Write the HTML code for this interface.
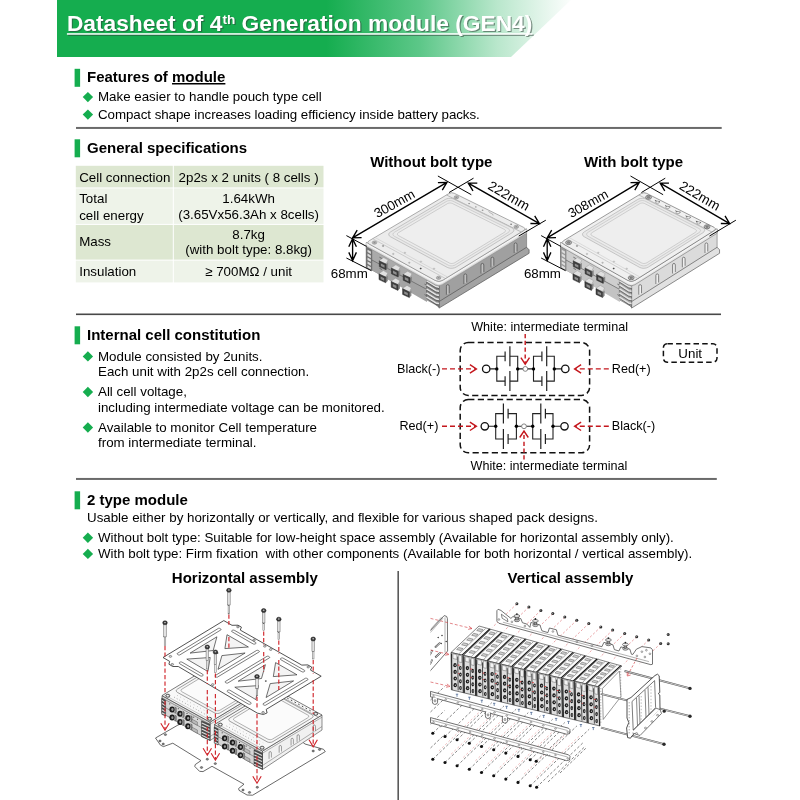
<!DOCTYPE html>
<html><head><meta charset="utf-8"><title>Datasheet of 4th Generation module (GEN4)</title>
<style>
html,body{margin:0;padding:0;background:#fff;}
body{width:800px;height:800px;overflow:hidden;font-family:"Liberation Sans",sans-serif;}
svg{display:block;position:absolute;left:0;top:0;will-change:transform;}
text{font-family:"Liberation Sans",sans-serif;fill:#000;}
.b{font-weight:bold;}
.h{font-weight:bold;font-size:15px;}
.t{font-size:13.33px;}
.s{font-size:12.6px;}
.c{text-anchor:middle;}
</style></head><body>
<svg width="800" height="800" viewBox="0 0 800 800">
<defs>
<linearGradient id="bg" gradientUnits="userSpaceOnUse" x1="57" y1="0" x2="575" y2="0">
<stop offset="0" stop-color="#15ad4f"/><stop offset="0.52" stop-color="#15ad4f"/><stop offset="0.70" stop-color="#5cc788"/><stop offset="0.85" stop-color="#b9e7cc"/><stop offset="0.95" stop-color="#e9f7ef"/><stop offset="1" stop-color="#ffffff"/>
</linearGradient>
<filter id="sh" x="-5%" y="-20%" width="110%" height="150%"><feGaussianBlur stdDeviation="0.7"/></filter>
</defs>

<polygon points="57,0 571,0 511,57 57,57" fill="url(#bg)"/>
<g style="opacity:.55" filter="url(#sh)"><text x="68.1" y="32.3" class="b" font-size="22.75px" style="fill:#2f4037"><tspan>Datasheet of 4</tspan><tspan dy="-7.5" font-size="13.6px">th</tspan><tspan dy="7.5"> Generation module (GEN4)</tspan></text><rect x="68.1" y="34.4" width="465.6" height="1.5" fill="#2f4037"/></g>
<text x="66.9" y="31" class="b" font-size="22.75px" style="fill:#fff"><tspan>Datasheet of 4</tspan><tspan dy="-7.5" font-size="13.6px">th</tspan><tspan dy="7.5"> Generation module (GEN4)</tspan></text>
<rect x="66.9" y="33.2" width="465.6" height="1.5" fill="#fff"/>
<rect x="74.6" y="68.8" width="5.5" height="18" fill="#15ad4f"/>
<text x="87" y="82" class="h">Features of <tspan text-decoration="underline">module</tspan></text>
<polygon points="82.7,97.1 87.9,91.89999999999999 93.10000000000001,97.1 87.9,102.3" fill="#15ad4f"/>
<text x="98" y="101.3" class="t" >Make easier to handle pouch type cell</text>
<polygon points="82.7,114.6 87.9,109.39999999999999 93.10000000000001,114.6 87.9,119.8" fill="#15ad4f"/>
<text x="98" y="118.8" class="t" textLength="381.8" lengthAdjust="spacing">Compact shape increases loading efficiency inside battery packs.</text>
<rect x="76" y="126.95" width="645.7" height="2.0" fill="#6a6a6a"/>
<rect x="74.6" y="139.3" width="5.5" height="18" fill="#15ad4f"/>
<text x="87" y="152.5" class="h">General specifications</text>
<rect x="75.8" y="165.8" width="97.0" height="21.6" fill="#dde7d1"/>
<rect x="173.8" y="165.8" width="149.7" height="21.6" fill="#dde7d1"/>
<rect x="75.8" y="188.4" width="97.0" height="35.5" fill="#eef3e9"/>
<rect x="173.8" y="188.4" width="149.7" height="35.5" fill="#eef3e9"/>
<rect x="75.8" y="224.9" width="97.0" height="34.7" fill="#dde7d1"/>
<rect x="173.8" y="224.9" width="149.7" height="34.7" fill="#dde7d1"/>
<rect x="75.8" y="260.6" width="97.0" height="21.8" fill="#eef3e9"/>
<rect x="173.8" y="260.6" width="149.7" height="21.8" fill="#eef3e9"/>
<text x="79.2" y="181.8" class="t" >Cell connection</text>
<text x="248.6" y="181.8" class="t c" >2p2s x 2 units ( 8 cells )</text>
<text x="79.2" y="203.2" class="t" >Total</text>
<text x="79.2" y="219.5" class="t" >cell energy</text>
<text x="248.6" y="203.2" class="t c" >1.64kWh</text>
<text x="248.6" y="219.0" class="t c" >(3.65Vx56.3Ah x 8cells)</text>
<text x="79.2" y="246" class="t" >Mass</text>
<text x="248.6" y="238.5" class="t c" >8.7kg</text>
<text x="248.6" y="254.0" class="t c" >(with bolt type: 8.8kg)</text>
<text x="79.2" y="276.0" class="t" >Insulation</text>
<text x="248.6" y="276.2" class="t c" >≥ 700MΩ / unit</text>
<g id="mod1">
<polygon points="439.0,282.6 526.6,228.8 526.6,249.8 439.0,303.6" fill="#a0a0a0" stroke="#6e6e6e" stroke-width="0.6"/>
<polygon points="439.0,301.6 526.6,247.3 529.1,249.8 529.1,253.3 439.0,308.1 439.0,301.6" fill="#a3a3a3" stroke="#555" stroke-width="0.7"/>
<path d="M446.4,294.7 v-8.5 a1.4,1.6 0 0 1 2.8,0 v7" fill="#c0c0c0" stroke="#4a4a4a" stroke-width="0.7"/>
<path d="M463.9,284.0 v-8.5 a1.4,1.6 0 0 1 2.8,0 v7" fill="#c0c0c0" stroke="#4a4a4a" stroke-width="0.7"/>
<path d="M481.0,273.5 v-8.5 a1.4,1.6 0 0 1 2.8,0 v7" fill="#c0c0c0" stroke="#4a4a4a" stroke-width="0.7"/>
<path d="M491.0,267.3 v-8.5 a1.4,1.6 0 0 1 2.8,0 v7" fill="#c0c0c0" stroke="#4a4a4a" stroke-width="0.7"/>
<path d="M514.2,253.0 v-8.5 a1.4,1.6 0 0 1 2.8,0 v7" fill="#c0c0c0" stroke="#4a4a4a" stroke-width="0.7"/>
<polygon points="366.3,242.5 439.0,282.6 439.0,306.6 366.3,267.0" fill="#aaaaaa" stroke="#777" stroke-width="0.6"/>
<polygon points="366.3,257.0 427.0,289.5 427.0,302.0 366.3,267.0" fill="#a3a3a3"/>
<path d="M366.3,257.0 L427.0,289.5" stroke="#6a6a6a" stroke-width="0.8" fill="none"/>
<path d="M379.4,257.2 l2.6,1.4" stroke="#666" stroke-width="0.9"/>
<path d="M379.4,268.2 l2.6,1.4" stroke="#666" stroke-width="0.9"/>
<path d="M424.5,284.1 l2.6,1.4" stroke="#666" stroke-width="0.9"/>
<path d="M424.5,294.6 l2.6,1.4" stroke="#666" stroke-width="0.9"/>
<polygon points="366.3,246.0 371.9,249.1 371.9,270.5 366.3,267.5" fill="#737373" stroke="#555" stroke-width="0.4"/>
<polygon points="367.5,249.7 370.9,251.6 370.9,254.0 367.5,252.1" fill="#dcdcdc"/>
<polygon points="367.5,253.6 370.9,255.5 370.9,257.9 367.5,256.0" fill="#dcdcdc"/>
<polygon points="367.5,257.5 370.9,259.4 370.9,261.8 367.5,259.9" fill="#dcdcdc"/>
<polygon points="367.5,261.4 370.9,263.3 370.9,265.7 367.5,263.8" fill="#dcdcdc"/>
<polygon points="367.5,265.3 370.9,267.2 370.9,269.6 367.5,267.7" fill="#dcdcdc"/>
<polygon points="426.5,277.7 439.0,284.6 439.0,307.2 426.5,297.2" fill="#858585" stroke="#555" stroke-width="0.5"/>
<path d="M426.5,280.7 L436.0,286.6 L439.0,287.2" stroke="#e2e2e2" stroke-width="1.6" fill="none"/>
<path d="M426.5,282.1 L436.0,288.0 L439.0,288.6" stroke="#555" stroke-width="0.7" fill="none"/>
<path d="M426.5,284.8 L436.0,290.7 L439.0,291.3" stroke="#e2e2e2" stroke-width="1.6" fill="none"/>
<path d="M426.5,286.2 L436.0,292.1 L439.0,292.7" stroke="#555" stroke-width="0.7" fill="none"/>
<path d="M426.5,288.9 L436.0,294.8 L439.0,295.4" stroke="#e2e2e2" stroke-width="1.6" fill="none"/>
<path d="M426.5,290.3 L436.0,296.2 L439.0,296.8" stroke="#555" stroke-width="0.7" fill="none"/>
<path d="M426.5,293.0 L436.0,298.9 L439.0,299.5" stroke="#e2e2e2" stroke-width="1.6" fill="none"/>
<path d="M426.5,294.4 L436.0,300.3 L439.0,300.9" stroke="#555" stroke-width="0.7" fill="none"/>
<path d="M426.5,297.1 L436.0,303.0 L439.0,303.6" stroke="#e2e2e2" stroke-width="1.6" fill="none"/>
<path d="M426.5,298.5 L436.0,304.4 L439.0,305.0" stroke="#555" stroke-width="0.7" fill="none"/>
<polygon points="379.4,260.4 383.7,257.6 388.1,260.1 386.3,263.6 379.4,262.4" fill="#e0e0e0" stroke="#8c8c8c" stroke-width="0.4"/>
<polygon points="386.1,264.2 388.1,262.8 388.1,260.1 388.1,268.0 386.1,269.6" fill="#868686"/>
<polygon points="379.3,260.8 386.1,264.2 386.1,269.8 379.3,266.6" fill="#3e3e3e" stroke="#2a2a2a" stroke-width="0.5"/>
<polygon points="380.9,263.4 384.5,265.2 384.5,267.8 380.9,266.0" fill="#8e8e8e"/>
<polygon points="391.5,267.6 395.8,264.8 400.2,267.3 398.4,270.8 391.5,269.6" fill="#e0e0e0" stroke="#8c8c8c" stroke-width="0.4"/>
<polygon points="398.2,271.4 400.2,270.0 400.2,267.3 400.2,275.2 398.2,276.8" fill="#868686"/>
<polygon points="391.4,268.0 398.2,271.4 398.2,277.0 391.4,273.8" fill="#3e3e3e" stroke="#2a2a2a" stroke-width="0.5"/>
<polygon points="393.0,270.6 396.6,272.4 396.6,275.0 393.0,273.2" fill="#8e8e8e"/>
<polygon points="403.3,274.0 407.6,271.2 412.0,273.7 410.2,277.2 403.3,276.0" fill="#e0e0e0" stroke="#8c8c8c" stroke-width="0.4"/>
<polygon points="410.0,277.8 412.0,276.4 412.0,273.7 412.0,281.6 410.0,283.2" fill="#868686"/>
<polygon points="403.2,274.4 410.0,277.8 410.0,283.4 403.2,280.2" fill="#3e3e3e" stroke="#2a2a2a" stroke-width="0.5"/>
<polygon points="404.8,277.0 408.4,278.8 408.4,281.4 404.8,279.6" fill="#8e8e8e"/>
<polygon points="379.1,273.4 383.4,270.6 387.8,273.1 386.0,276.6 379.1,275.4" fill="#e0e0e0" stroke="#8c8c8c" stroke-width="0.4"/>
<polygon points="385.8,277.2 387.8,275.8 387.8,273.1 387.8,281.0 385.8,282.6" fill="#868686"/>
<polygon points="379.0,273.8 385.8,277.2 385.8,282.8 379.0,279.6" fill="#3e3e3e" stroke="#2a2a2a" stroke-width="0.5"/>
<polygon points="380.6,276.4 384.2,278.2 384.2,280.8 380.6,279.0" fill="#8e8e8e"/>
<polygon points="391.3,281.0 395.6,278.2 400.0,280.7 398.2,284.2 391.3,283.0" fill="#e0e0e0" stroke="#8c8c8c" stroke-width="0.4"/>
<polygon points="398.0,284.8 400.0,283.4 400.0,280.7 400.0,288.6 398.0,290.2" fill="#868686"/>
<polygon points="391.2,281.4 398.0,284.8 398.0,290.4 391.2,287.2" fill="#3e3e3e" stroke="#2a2a2a" stroke-width="0.5"/>
<polygon points="392.8,284.0 396.4,285.8 396.4,288.4 392.8,286.6" fill="#8e8e8e"/>
<polygon points="402.7,288.2 407.0,285.4 411.4,287.9 409.6,291.4 402.7,290.2" fill="#e0e0e0" stroke="#8c8c8c" stroke-width="0.4"/>
<polygon points="409.4,292.0 411.4,290.6 411.4,287.9 411.4,295.8 409.4,297.4" fill="#868686"/>
<polygon points="402.6,288.6 409.4,292.0 409.4,297.6 402.6,294.4" fill="#3e3e3e" stroke="#2a2a2a" stroke-width="0.5"/>
<polygon points="404.2,291.2 407.8,293.0 407.8,295.6 404.2,293.8" fill="#8e8e8e"/>
<path d="M366.3,243.5 Q366.3,242.5 367.2,243.0 L435.5,280.7 Q439.0,282.6 442.4,280.5 L525.7,229.3 Q526.6,228.8 526.6,229.8 L526.6,232.3 Q526.6,233.3 525.7,233.8 L442.4,284.7 Q439.0,286.8 435.5,284.9 L367.2,247.0 Q366.3,246.5 366.3,245.5 Z" fill="#dadada" stroke="#8a8a8a" stroke-width="0.6"/>
<path d="M366.3,243.4 Q366.3,242.9 366.7,243.1 L435.5,281.1 Q439.0,283.0 442.4,280.9 L526.2,229.5 Q526.6,229.2 526.6,229.7 L526.6,230.7 Q526.6,231.2 526.2,231.5 L442.4,283.1 Q439.0,285.2 435.5,283.3 L366.7,244.9 Q366.3,244.7 366.3,244.2 Z" fill="#f3f3f3"/>
<path d="M369.4,244.2 Q366.3,242.5 369.3,240.7 L449.0,193.5 Q451.6,192.0 454.3,193.3 L523.5,227.3 Q526.6,228.8 523.6,230.6 L442.8,280.2 Q439.0,282.6 435.1,280.4 Z" fill="#ececec" stroke="#8a8a8a" stroke-width="0.7" stroke-linejoin="round"/>
<path d="M446.5,195.0 L521.3,232.0" stroke="#999" stroke-width="0.6"/>
<path d="M372.7,238.7 L445.6,278.6" stroke="#aaa" stroke-width="0.5"/>
<path d="M374.8,237.4 L447.8,277.2" stroke="#c4c4c4" stroke-width="0.5"/>
<polygon points="390.4,236.7 389.3,235.9 388.8,234.9 388.8,233.8 389.4,232.8 390.5,231.9 445.2,199.5 446.7,198.8 448.5,198.4 450.4,198.3 452.2,198.5 453.7,199.1 512.1,227.9 513.2,228.7 513.8,229.7 513.8,230.8 513.2,231.8 512.0,232.8 456.1,267.1 454.5,267.8 452.7,268.2 450.8,268.3 449.0,268.0 447.5,267.5" fill="#e8e8e8" stroke="#a8a8a8" stroke-width="0.6"/>
<polygon points="394.3,236.2 393.4,235.5 393.0,234.7 393.0,233.9 393.5,233.0 394.4,232.3 446.2,201.6 447.4,201.0 448.8,200.7 450.4,200.6 451.8,200.8 453.0,201.2 508.2,228.6 509.1,229.3 509.6,230.0 509.6,230.9 509.1,231.7 508.2,232.5 455.2,264.9 454.0,265.5 452.5,265.8 451.0,265.9 449.6,265.7 448.3,265.2" fill="#ebebeb" stroke="#b4b4b4" stroke-width="0.5"/>
<polygon points="398.4,235.6 397.7,235.1 397.4,234.5 397.4,233.9 397.7,233.3 398.4,232.7 447.2,203.8 448.1,203.3 449.2,203.1 450.3,203.0 451.4,203.2 452.3,203.5 504.4,229.4 505.1,229.9 505.4,230.5 505.4,231.1 505.0,231.8 504.4,232.3 454.6,262.8 453.6,263.2 452.6,263.4 451.4,263.5 450.3,263.3 449.4,263.0" fill="#eeeeee" stroke="#adadad" stroke-width="0.5"/>
<ellipse cx="374.5" cy="242.6" rx="2.3" ry="1.6" fill="#bdbdbd" stroke="#777" stroke-width="0.5"/>
<ellipse cx="374.5" cy="242.6" rx="1.1" ry="0.8" fill="#8f8f8f"/>
<ellipse cx="438.6" cy="277.8" rx="2.3" ry="1.6" fill="#bdbdbd" stroke="#777" stroke-width="0.5"/>
<ellipse cx="438.6" cy="277.8" rx="1.1" ry="0.8" fill="#8f8f8f"/>
<ellipse cx="456.4" cy="197.3" rx="2.3" ry="1.6" fill="#bdbdbd" stroke="#777" stroke-width="0.5"/>
<ellipse cx="456.4" cy="197.3" rx="1.1" ry="0.8" fill="#8f8f8f"/>
<ellipse cx="516.3" cy="226.8" rx="2.3" ry="1.6" fill="#bdbdbd" stroke="#777" stroke-width="0.5"/>
<ellipse cx="516.3" cy="226.8" rx="1.1" ry="0.8" fill="#8f8f8f"/>
<ellipse cx="393.3" cy="253.9" rx="0.9" ry="0.7" fill="#bbb" stroke="#999" stroke-width="0.3"/>
<ellipse cx="404.9" cy="252.8" rx="0.9" ry="0.7" fill="#ccc" stroke="#999" stroke-width="0.3"/>
<ellipse cx="409.3" cy="262.7" rx="0.9" ry="0.7" fill="#bbb" stroke="#999" stroke-width="0.3"/>
<ellipse cx="420.9" cy="261.6" rx="0.9" ry="0.7" fill="#ccc" stroke="#999" stroke-width="0.3"/>
<ellipse cx="420.7" cy="268.5" rx="0.9" ry="0.7" fill="#333" stroke="#999" stroke-width="0.3"/>
<ellipse cx="434.0" cy="268.7" rx="0.9" ry="0.7" fill="#ccc" stroke="#999" stroke-width="0.3"/>
<ellipse cx="383.1" cy="245.9" rx="0.9" ry="0.7" fill="#777" stroke="#999" stroke-width="0.3"/>
<ellipse cx="469.1" cy="203.6" rx="0.9" ry="0.7" fill="#888"/>
<ellipse cx="475.8" cy="206.9" rx="0.9" ry="0.7" fill="#999"/>
<ellipse cx="482.6" cy="210.2" rx="0.9" ry="0.7" fill="#999"/>
<ellipse cx="511.1" cy="224.2" rx="0.9" ry="0.7" fill="#777"/>
<path d="M488.6,211.0 l1,1.5 l3,1.5 l0.5,1.5" stroke="#888" stroke-width="0.5" fill="none"/>
<path d="M352.6,237.9 L446.9,182.4 M442.3,190.2 L446.9,182.4 L437.9,182.6 M357.2,230.1 L352.6,237.9 L361.6,237.7" stroke="#000" stroke-width="1.35" fill="none" stroke-linejoin="miter"/>
<path d="M346.4,235.6 L366.5,246.4" stroke="#000" stroke-width="1.0" fill="none"/>
<path d="M437.9,176.0 L471.3,194.7" stroke="#000" stroke-width="1.0" fill="none"/>
<path d="M468.3,183.1 L539.4,223.6 M530.4,223.5 L539.4,223.6 L534.7,215.9 M477.3,183.2 L468.3,183.1 L473.0,190.8" stroke="#000" stroke-width="1.35" fill="none" stroke-linejoin="miter"/>
<path d="M449.1,192.5 L473.5,178.2" stroke="#000" stroke-width="1.0" fill="none"/>
<path d="M518.8,236.0 L545.8,220.2" stroke="#000" stroke-width="1.0" fill="none"/>
<path d="M352.6,238.6 L352.6,260.6 M348.8,252.4 L352.6,260.6 L356.4,252.4 M356.4,246.8 L352.6,238.6 L348.8,246.8" stroke="#000" stroke-width="1.35" fill="none" stroke-linejoin="miter"/>
<path d="M346.4,258.0 L371.4,270.7" stroke="#000" stroke-width="1.0" fill="none"/>
<text class="t" text-anchor="middle" transform="translate(396.6,207.6) rotate(-29.0)" x="0" y="0">300mm</text>
<text class="t" text-anchor="middle" transform="translate(506.6,199.8) rotate(30.0)" x="0" y="0" style="font-size:13.6px">222mm</text>
</g>
<g id="mod2" transform="translate(547.2,0) scale(0.9765,1) translate(-352.6,0)">
<polygon points="439.0,282.6 526.6,228.8 526.6,249.8 439.0,303.6" fill="#dbdbdb" stroke="#6a6a6a" stroke-width="0.6"/>
<polygon points="439.0,301.6 526.6,247.3 529.1,249.8 529.1,253.3 439.0,308.1 439.0,301.6" fill="#e1e1e1" stroke="#5a5a5a" stroke-width="0.7"/>
<path d="M446.4,294.7 v-8.5 a1.4,1.6 0 0 1 2.8,0 v7" fill="#efefef" stroke="#555" stroke-width="0.7"/>
<path d="M463.9,284.0 v-8.5 a1.4,1.6 0 0 1 2.8,0 v7" fill="#efefef" stroke="#555" stroke-width="0.7"/>
<path d="M481.0,273.5 v-8.5 a1.4,1.6 0 0 1 2.8,0 v7" fill="#efefef" stroke="#555" stroke-width="0.7"/>
<path d="M491.0,267.3 v-8.5 a1.4,1.6 0 0 1 2.8,0 v7" fill="#efefef" stroke="#555" stroke-width="0.7"/>
<path d="M514.2,253.0 v-8.5 a1.4,1.6 0 0 1 2.8,0 v7" fill="#efefef" stroke="#555" stroke-width="0.7"/>
<polygon points="366.3,242.5 439.0,282.6 439.0,306.6 366.3,267.0" fill="#cecece" stroke="#666" stroke-width="0.6"/>
<polygon points="366.3,257.0 427.0,289.5 427.0,302.0 366.3,267.0" fill="#c3c3c3"/>
<path d="M366.3,257.0 L427.0,289.5" stroke="#6a6a6a" stroke-width="0.8" fill="none"/>
<path d="M379.4,257.2 l2.6,1.4" stroke="#666" stroke-width="0.9"/>
<path d="M379.4,268.2 l2.6,1.4" stroke="#666" stroke-width="0.9"/>
<path d="M424.5,284.1 l2.6,1.4" stroke="#666" stroke-width="0.9"/>
<path d="M424.5,294.6 l2.6,1.4" stroke="#666" stroke-width="0.9"/>
<polygon points="366.3,246.0 371.9,249.1 371.9,270.5 366.3,267.5" fill="#9a9a9a" stroke="#555" stroke-width="0.4"/>
<polygon points="367.5,249.7 370.9,251.6 370.9,254.0 367.5,252.1" fill="#dcdcdc"/>
<polygon points="367.5,253.6 370.9,255.5 370.9,257.9 367.5,256.0" fill="#dcdcdc"/>
<polygon points="367.5,257.5 370.9,259.4 370.9,261.8 367.5,259.9" fill="#dcdcdc"/>
<polygon points="367.5,261.4 370.9,263.3 370.9,265.7 367.5,263.8" fill="#dcdcdc"/>
<polygon points="367.5,265.3 370.9,267.2 370.9,269.6 367.5,267.7" fill="#dcdcdc"/>
<polygon points="426.5,277.7 439.0,284.6 439.0,307.2 426.5,297.2" fill="#a6a6a6" stroke="#555" stroke-width="0.5"/>
<path d="M426.5,280.7 L436.0,286.6 L439.0,287.2" stroke="#e2e2e2" stroke-width="1.6" fill="none"/>
<path d="M426.5,282.1 L436.0,288.0 L439.0,288.6" stroke="#555" stroke-width="0.7" fill="none"/>
<path d="M426.5,284.8 L436.0,290.7 L439.0,291.3" stroke="#e2e2e2" stroke-width="1.6" fill="none"/>
<path d="M426.5,286.2 L436.0,292.1 L439.0,292.7" stroke="#555" stroke-width="0.7" fill="none"/>
<path d="M426.5,288.9 L436.0,294.8 L439.0,295.4" stroke="#e2e2e2" stroke-width="1.6" fill="none"/>
<path d="M426.5,290.3 L436.0,296.2 L439.0,296.8" stroke="#555" stroke-width="0.7" fill="none"/>
<path d="M426.5,293.0 L436.0,298.9 L439.0,299.5" stroke="#e2e2e2" stroke-width="1.6" fill="none"/>
<path d="M426.5,294.4 L436.0,300.3 L439.0,300.9" stroke="#555" stroke-width="0.7" fill="none"/>
<path d="M426.5,297.1 L436.0,303.0 L439.0,303.6" stroke="#e2e2e2" stroke-width="1.6" fill="none"/>
<path d="M426.5,298.5 L436.0,304.4 L439.0,305.0" stroke="#555" stroke-width="0.7" fill="none"/>
<polygon points="379.4,260.4 383.7,257.6 388.1,260.1 386.3,263.6 379.4,262.4" fill="#e0e0e0" stroke="#8c8c8c" stroke-width="0.4"/>
<polygon points="386.1,264.2 388.1,262.8 388.1,260.1 388.1,268.0 386.1,269.6" fill="#868686"/>
<polygon points="379.3,260.8 386.1,264.2 386.1,269.8 379.3,266.6" fill="#3e3e3e" stroke="#2a2a2a" stroke-width="0.5"/>
<polygon points="380.9,263.4 384.5,265.2 384.5,267.8 380.9,266.0" fill="#8e8e8e"/>
<polygon points="391.5,267.6 395.8,264.8 400.2,267.3 398.4,270.8 391.5,269.6" fill="#e0e0e0" stroke="#8c8c8c" stroke-width="0.4"/>
<polygon points="398.2,271.4 400.2,270.0 400.2,267.3 400.2,275.2 398.2,276.8" fill="#868686"/>
<polygon points="391.4,268.0 398.2,271.4 398.2,277.0 391.4,273.8" fill="#3e3e3e" stroke="#2a2a2a" stroke-width="0.5"/>
<polygon points="393.0,270.6 396.6,272.4 396.6,275.0 393.0,273.2" fill="#8e8e8e"/>
<polygon points="403.3,274.0 407.6,271.2 412.0,273.7 410.2,277.2 403.3,276.0" fill="#e0e0e0" stroke="#8c8c8c" stroke-width="0.4"/>
<polygon points="410.0,277.8 412.0,276.4 412.0,273.7 412.0,281.6 410.0,283.2" fill="#868686"/>
<polygon points="403.2,274.4 410.0,277.8 410.0,283.4 403.2,280.2" fill="#3e3e3e" stroke="#2a2a2a" stroke-width="0.5"/>
<polygon points="404.8,277.0 408.4,278.8 408.4,281.4 404.8,279.6" fill="#8e8e8e"/>
<polygon points="379.1,273.4 383.4,270.6 387.8,273.1 386.0,276.6 379.1,275.4" fill="#e0e0e0" stroke="#8c8c8c" stroke-width="0.4"/>
<polygon points="385.8,277.2 387.8,275.8 387.8,273.1 387.8,281.0 385.8,282.6" fill="#868686"/>
<polygon points="379.0,273.8 385.8,277.2 385.8,282.8 379.0,279.6" fill="#3e3e3e" stroke="#2a2a2a" stroke-width="0.5"/>
<polygon points="380.6,276.4 384.2,278.2 384.2,280.8 380.6,279.0" fill="#8e8e8e"/>
<polygon points="391.3,281.0 395.6,278.2 400.0,280.7 398.2,284.2 391.3,283.0" fill="#e0e0e0" stroke="#8c8c8c" stroke-width="0.4"/>
<polygon points="398.0,284.8 400.0,283.4 400.0,280.7 400.0,288.6 398.0,290.2" fill="#868686"/>
<polygon points="391.2,281.4 398.0,284.8 398.0,290.4 391.2,287.2" fill="#3e3e3e" stroke="#2a2a2a" stroke-width="0.5"/>
<polygon points="392.8,284.0 396.4,285.8 396.4,288.4 392.8,286.6" fill="#8e8e8e"/>
<polygon points="402.7,288.2 407.0,285.4 411.4,287.9 409.6,291.4 402.7,290.2" fill="#e0e0e0" stroke="#8c8c8c" stroke-width="0.4"/>
<polygon points="409.4,292.0 411.4,290.6 411.4,287.9 411.4,295.8 409.4,297.4" fill="#868686"/>
<polygon points="402.6,288.6 409.4,292.0 409.4,297.6 402.6,294.4" fill="#3e3e3e" stroke="#2a2a2a" stroke-width="0.5"/>
<polygon points="404.2,291.2 407.8,293.0 407.8,295.6 404.2,293.8" fill="#8e8e8e"/>
<path d="M366.3,243.5 Q366.3,242.5 367.2,243.0 L435.5,280.7 Q439.0,282.6 442.4,280.5 L525.7,229.3 Q526.6,228.8 526.6,229.8 L526.6,232.3 Q526.6,233.3 525.7,233.8 L442.4,284.7 Q439.0,286.8 435.5,284.9 L367.2,247.0 Q366.3,246.5 366.3,245.5 Z" fill="#e6e6e6" stroke="#6f6f6f" stroke-width="0.6"/>
<path d="M366.3,243.4 Q366.3,242.9 366.7,243.1 L435.5,281.1 Q439.0,283.0 442.4,280.9 L526.2,229.5 Q526.6,229.2 526.6,229.7 L526.6,230.7 Q526.6,231.2 526.2,231.5 L442.4,283.1 Q439.0,285.2 435.5,283.3 L366.7,244.9 Q366.3,244.7 366.3,244.2 Z" fill="#f3f3f3"/>
<path d="M369.4,244.2 Q366.3,242.5 369.3,240.7 L449.0,193.5 Q451.6,192.0 454.3,193.3 L523.5,227.3 Q526.6,228.8 523.6,230.6 L442.8,280.2 Q439.0,282.6 435.1,280.4 Z" fill="#f0f0f0" stroke="#6f6f6f" stroke-width="0.7" stroke-linejoin="round"/>
<path d="M446.5,195.0 L521.3,232.0" stroke="#999" stroke-width="0.6"/>
<path d="M372.7,238.7 L445.6,278.6" stroke="#aaa" stroke-width="0.5"/>
<path d="M374.8,237.4 L447.8,277.2" stroke="#c4c4c4" stroke-width="0.5"/>
<polygon points="390.4,236.7 389.3,235.9 388.8,234.9 388.8,233.8 389.4,232.8 390.5,231.9 445.2,199.5 446.7,198.8 448.5,198.4 450.4,198.3 452.2,198.5 453.7,199.1 512.1,227.9 513.2,228.7 513.8,229.7 513.8,230.8 513.2,231.8 512.0,232.8 456.1,267.1 454.5,267.8 452.7,268.2 450.8,268.3 449.0,268.0 447.5,267.5" fill="#e8e8e8" stroke="#a8a8a8" stroke-width="0.6"/>
<polygon points="394.3,236.2 393.4,235.5 393.0,234.7 393.0,233.9 393.5,233.0 394.4,232.3 446.2,201.6 447.4,201.0 448.8,200.7 450.4,200.6 451.8,200.8 453.0,201.2 508.2,228.6 509.1,229.3 509.6,230.0 509.6,230.9 509.1,231.7 508.2,232.5 455.2,264.9 454.0,265.5 452.5,265.8 451.0,265.9 449.6,265.7 448.3,265.2" fill="#ebebeb" stroke="#b4b4b4" stroke-width="0.5"/>
<polygon points="398.4,235.6 397.7,235.1 397.4,234.5 397.4,233.9 397.7,233.3 398.4,232.7 447.2,203.8 448.1,203.3 449.2,203.1 450.3,203.0 451.4,203.2 452.3,203.5 504.4,229.4 505.1,229.9 505.4,230.5 505.4,231.1 505.0,231.8 504.4,232.3 454.6,262.8 453.6,263.2 452.6,263.4 451.4,263.5 450.3,263.3 449.4,263.0" fill="#eeeeee" stroke="#adadad" stroke-width="0.5"/>
<ellipse cx="374.5" cy="242.6" rx="3.0" ry="2.0" fill="#d0d0d0" stroke="#555" stroke-width="0.7"/>
<ellipse cx="374.5" cy="242.6" rx="1.5" ry="1.0" fill="#8a8a8a" stroke="#555" stroke-width="0.4"/>
<ellipse cx="438.6" cy="277.8" rx="3.0" ry="2.0" fill="#d0d0d0" stroke="#555" stroke-width="0.7"/>
<ellipse cx="438.6" cy="277.8" rx="1.5" ry="1.0" fill="#8a8a8a" stroke="#555" stroke-width="0.4"/>
<ellipse cx="456.4" cy="197.3" rx="3.0" ry="2.0" fill="#d0d0d0" stroke="#555" stroke-width="0.7"/>
<ellipse cx="456.4" cy="197.3" rx="1.5" ry="1.0" fill="#8a8a8a" stroke="#555" stroke-width="0.4"/>
<ellipse cx="516.3" cy="226.8" rx="3.0" ry="2.0" fill="#d0d0d0" stroke="#555" stroke-width="0.7"/>
<ellipse cx="516.3" cy="226.8" rx="1.5" ry="1.0" fill="#8a8a8a" stroke="#555" stroke-width="0.4"/>
<ellipse cx="393.3" cy="253.9" rx="0.9" ry="0.7" fill="#bbb" stroke="#999" stroke-width="0.3"/>
<ellipse cx="404.9" cy="252.8" rx="0.9" ry="0.7" fill="#ccc" stroke="#999" stroke-width="0.3"/>
<ellipse cx="409.3" cy="262.7" rx="0.9" ry="0.7" fill="#bbb" stroke="#999" stroke-width="0.3"/>
<ellipse cx="420.9" cy="261.6" rx="0.9" ry="0.7" fill="#ccc" stroke="#999" stroke-width="0.3"/>
<ellipse cx="420.7" cy="268.5" rx="0.9" ry="0.7" fill="#333" stroke="#999" stroke-width="0.3"/>
<ellipse cx="434.0" cy="268.7" rx="0.9" ry="0.7" fill="#ccc" stroke="#999" stroke-width="0.3"/>
<ellipse cx="383.1" cy="245.9" rx="0.9" ry="0.7" fill="#777" stroke="#999" stroke-width="0.3"/>
<path d="M462.9,200.4 l3,1.5 l2.2,-0.2 " stroke="#444" stroke-width="0.9" fill="none"/>
<ellipse cx="465.5" cy="202.2" rx="2" ry="1.1" fill="#f2f2f2" stroke="#666" stroke-width="0.5"/>
<path d="M473.4,205.6 l3,1.5 l2.2,-0.2 " stroke="#444" stroke-width="0.9" fill="none"/>
<ellipse cx="476.0" cy="207.4" rx="2" ry="1.1" fill="#f2f2f2" stroke="#666" stroke-width="0.5"/>
<path d="M483.9,210.8 l3,1.5 l2.2,-0.2 " stroke="#444" stroke-width="0.9" fill="none"/>
<ellipse cx="486.5" cy="212.6" rx="2" ry="1.1" fill="#f2f2f2" stroke="#666" stroke-width="0.5"/>
<path d="M494.4,215.9 l3,1.5 l2.2,-0.2 " stroke="#444" stroke-width="0.9" fill="none"/>
<ellipse cx="497.0" cy="217.7" rx="2" ry="1.1" fill="#f2f2f2" stroke="#666" stroke-width="0.5"/>
<path d="M504.9,221.1 l3,1.5 l2.2,-0.2 " stroke="#444" stroke-width="0.9" fill="none"/>
<ellipse cx="507.5" cy="222.9" rx="2" ry="1.1" fill="#f2f2f2" stroke="#666" stroke-width="0.5"/>
<path d="M352.6,237.9 L446.9,182.4 M442.3,190.2 L446.9,182.4 L437.9,182.6 M357.2,230.1 L352.6,237.9 L361.6,237.7" stroke="#000" stroke-width="1.35" fill="none" stroke-linejoin="miter"/>
<path d="M346.4,235.6 L366.5,246.4" stroke="#000" stroke-width="1.0" fill="none"/>
<path d="M437.9,176.0 L471.3,194.7" stroke="#000" stroke-width="1.0" fill="none"/>
<path d="M468.3,183.1 L539.4,223.6 M530.4,223.5 L539.4,223.6 L534.7,215.9 M477.3,183.2 L468.3,183.1 L473.0,190.8" stroke="#000" stroke-width="1.35" fill="none" stroke-linejoin="miter"/>
<path d="M449.1,192.5 L473.5,178.2" stroke="#000" stroke-width="1.0" fill="none"/>
<path d="M518.8,236.0 L545.8,220.2" stroke="#000" stroke-width="1.0" fill="none"/>
<path d="M352.6,238.6 L352.6,260.6 M348.8,252.4 L352.6,260.6 L356.4,252.4 M356.4,246.8 L352.6,238.6 L348.8,246.8" stroke="#000" stroke-width="1.35" fill="none" stroke-linejoin="miter"/>
<path d="M346.4,258.0 L371.4,270.7" stroke="#000" stroke-width="1.0" fill="none"/>
<text class="t" text-anchor="middle" transform="translate(396.6,207.6) rotate(-29.0)" x="0" y="0">308mm</text>
<text class="t" text-anchor="middle" transform="translate(506.6,199.8) rotate(30.0)" x="0" y="0" style="font-size:13.6px">222mm</text>
</g>
<text class="t" x="330.8" y="278.2">68mm</text>
<text class="t" x="523.9" y="278.2">68mm</text>
<text x="431.3" y="166.5" class="h c">Without bolt type</text>
<text x="633.5" y="166.5" class="h c">With bolt type</text>
<rect x="76" y="313.50" width="645" height="1.6" fill="#484848"/>
<rect x="74.6" y="326.3" width="5.5" height="18" fill="#15ad4f"/>
<text x="87" y="339.5" class="h">Internal cell constitution</text>
<polygon points="82.7,356.40000000000003 87.9,351.20000000000005 93.10000000000001,356.40000000000003 87.9,361.6" fill="#15ad4f"/>
<text x="98" y="360.6" class="t" >Module consisted by 2units.</text>
<text x="98" y="376.0" class="t" >Each unit with 2p2s cell connection.</text>
<polygon points="82.7,392.0 87.9,386.8 93.10000000000001,392.0 87.9,397.2" fill="#15ad4f"/>
<text x="98" y="396.2" class="t" >All cell voltage,</text>
<text x="98" y="411.7" class="t" >including intermediate voltage can be monitored.</text>
<polygon points="82.7,427.5 87.9,422.3 93.10000000000001,427.5 87.9,432.7" fill="#15ad4f"/>
<text x="98" y="431.7" class="t" >Available to monitor Cell temperature</text>
<text x="98" y="447.3" class="t" >from intermediate terminal.</text>
<rect x="460.2" y="342.6" width="129.40000000000003" height="52.799999999999955" rx="8" ry="8" fill="none" stroke="#111" stroke-width="1.5" stroke-dasharray="6.2,3.4"/>
<rect x="460.2" y="399.6" width="129.40000000000003" height="53.19999999999999" rx="8" ry="8" fill="none" stroke="#111" stroke-width="1.5" stroke-dasharray="6.2,3.4"/>
<path d="M490.09999999999997,368.9 H496.8 M517.7,368.9 H533.5 M554.3,368.9 H561.4" stroke="#222" stroke-width="1.1"/>
<path d="M496.8,368.9 V356.3 H505.1 M509.9,356.3 H517.7 V368.9 M496.8,368.9 V381.1 H505.1 M509.9,381.1 H517.7 V368.9" stroke="#222" stroke-width="1.1" fill="none"/>
<path d="M505.1,351.40000000000003 V361.2 M509.9,346.3 V366.3" stroke="#222" stroke-width="1.2" fill="none"/>
<path d="M505.1,376.20000000000005 V386.0 M509.9,371.1 V391.1" stroke="#222" stroke-width="1.2" fill="none"/>
<circle cx="496.8" cy="368.9" r="1.7" fill="#000"/>
<circle cx="517.7" cy="368.9" r="1.7" fill="#000"/>
<path d="M533.5,368.9 V356.3 H541.9 M546.7,356.3 H554.3 V368.9 M533.5,368.9 V381.1 H541.9 M546.7,381.1 H554.3 V368.9" stroke="#222" stroke-width="1.1" fill="none"/>
<path d="M541.9,351.40000000000003 V361.2 M546.7,346.3 V366.3" stroke="#222" stroke-width="1.2" fill="none"/>
<path d="M541.9,376.20000000000005 V386.0 M546.7,371.1 V391.1" stroke="#222" stroke-width="1.2" fill="none"/>
<circle cx="533.5" cy="368.9" r="1.7" fill="#000"/>
<circle cx="554.3" cy="368.9" r="1.7" fill="#000"/>
<circle cx="486.2" cy="368.9" r="3.7" fill="#fff" stroke="#111" stroke-width="1.3"/>
<circle cx="565.3" cy="368.9" r="3.7" fill="#fff" stroke="#111" stroke-width="1.3"/>
<circle cx="525.3" cy="368.9" r="2.4" fill="#fff" stroke="#777" stroke-width="0.9"/>
<path d="M488.7,426.3 H495.7 M516.4,426.3 H532.7 M553.0,426.3 H560.6" stroke="#222" stroke-width="1.1"/>
<path d="M495.7,426.3 V413.6 H503.4 M508.1,413.6 H516.4 V426.3 M495.7,426.3 V439.0 H503.4 M508.1,439.0 H516.4 V426.3" stroke="#222" stroke-width="1.1" fill="none"/>
<path d="M503.4,403.6 V423.6 M508.1,408.70000000000005 V418.5" stroke="#222" stroke-width="1.2" fill="none"/>
<path d="M503.4,429.0 V449.0 M508.1,434.1 V443.9" stroke="#222" stroke-width="1.2" fill="none"/>
<circle cx="495.7" cy="426.3" r="1.7" fill="#000"/>
<circle cx="516.4" cy="426.3" r="1.7" fill="#000"/>
<path d="M532.7,426.3 V413.6 H540.8 M545.4,413.6 H553.0 V426.3 M532.7,426.3 V439.0 H540.8 M545.4,439.0 H553.0 V426.3" stroke="#222" stroke-width="1.1" fill="none"/>
<path d="M540.8,403.6 V423.6 M545.4,408.70000000000005 V418.5" stroke="#222" stroke-width="1.2" fill="none"/>
<path d="M540.8,429.0 V449.0 M545.4,434.1 V443.9" stroke="#222" stroke-width="1.2" fill="none"/>
<circle cx="532.7" cy="426.3" r="1.7" fill="#000"/>
<circle cx="553.0" cy="426.3" r="1.7" fill="#000"/>
<circle cx="484.8" cy="426.3" r="3.7" fill="#fff" stroke="#111" stroke-width="1.3"/>
<circle cx="564.5" cy="426.3" r="3.7" fill="#fff" stroke="#111" stroke-width="1.3"/>
<circle cx="524.0" cy="426.3" r="2.4" fill="#fff" stroke="#777" stroke-width="0.9"/>
<path d="M442,368.9 H475.4" stroke="#c4161c" stroke-width="1.4" stroke-dasharray="5,3" fill="none"/>
<path d="M469.9,364.7 L476.4,368.9 L469.9,373.09999999999997" stroke="#c4161c" stroke-width="1.4" fill="none"/>
<path d="M608.8,368.9 H575.6" stroke="#c4161c" stroke-width="1.4" stroke-dasharray="5,3" fill="none"/>
<path d="M581.1,364.7 L574.6,368.9 L581.1,373.09999999999997" stroke="#c4161c" stroke-width="1.4" fill="none"/>
<path d="M442,426.3 H475.4" stroke="#c4161c" stroke-width="1.4" stroke-dasharray="5,3" fill="none"/>
<path d="M469.9,422.1 L476.4,426.3 L469.9,430.5" stroke="#c4161c" stroke-width="1.4" fill="none"/>
<path d="M608.8,426.3 H575.6" stroke="#c4161c" stroke-width="1.4" stroke-dasharray="5,3" fill="none"/>
<path d="M581.1,422.1 L574.6,426.3 L581.1,430.5" stroke="#c4161c" stroke-width="1.4" fill="none"/>
<path d="M525.2,334 V363.2" stroke="#c4161c" stroke-width="1.4" stroke-dasharray="4.2,2.6" fill="none"/>
<path d="M520.9000000000001,357.7 L525.2,364.2 L529.5,357.7" stroke="#c4161c" stroke-width="1.4" fill="none"/>
<path d="M524.0,459.5 V432.0" stroke="#c4161c" stroke-width="1.4" stroke-dasharray="4.2,2.6" fill="none"/>
<path d="M519.7,437.5 L524.0,431.0 L528.3,437.5" stroke="#c4161c" stroke-width="1.4" fill="none"/>
<text x="471.2" y="330.5" class="s">White: intermediate terminal</text>
<text x="470.6" y="469.6" class="s">White: intermediate terminal</text>
<text x="397" y="373.2" class="s">Black(-)</text>
<text x="611.8" y="373.2" class="s">Red(+)</text>
<text x="399.5" y="430.4" class="s">Red(+)</text>
<text x="611.8" y="430.4" class="s">Black(-)</text>
<rect x="663.4" y="343.8" width="53.6" height="18.4" rx="4" ry="4" fill="none" stroke="#111" stroke-width="1.5" stroke-dasharray="5.5,3.2"/>
<text x="690.2" y="357.6" class="t c">Unit</text>
<rect x="76" y="477.95" width="640.8" height="2.0" fill="#6a6a6a"/>
<rect x="74.6" y="491.3" width="5.5" height="18" fill="#15ad4f"/>
<text x="87" y="504.5" class="h">2 type module</text>
<text x="87" y="521.9" class="t" >Usable either by horizontally or vertically, and flexible for various shaped pack designs.</text>
<polygon points="82.7,537.6999999999999 87.9,532.4999999999999 93.10000000000001,537.6999999999999 87.9,542.9" fill="#15ad4f"/>
<text x="98" y="541.9" class="t" textLength="575.8" lengthAdjust="spacing">Without bolt type: Suitable for low-height space assembly (Available for horizontal assembly only).</text>
<polygon points="82.7,553.9 87.9,548.6999999999999 93.10000000000001,553.9 87.9,559.1" fill="#15ad4f"/>
<text x="98" y="558.1" class="t" textLength="594.2" lengthAdjust="spacing">With bolt type: Firm fixation&#160; with other components (Available for both horizontal / vertical assembly).</text>
<text x="244.8" y="582.9" class="h c">Horizontal assembly</text>
<text x="570.5" y="582.9" class="h c">Vertical assembly</text>
<rect x="397.4" y="571" width="1.6" height="229" fill="#5a5a5a"/>
<polygon points="155.5,738.0 178.0,725.0 250.0,700.0 305.0,744.0 323.5,749.3 325.3,751.6 252.7,795.2 247.0,795.0 239.0,790.3 238.6,788.5 244.0,784.2 212.0,766.3 203.0,771.6 199.5,771.3 194.8,766.5 195.2,764.6 201.0,760.6 172.8,743.2 163.5,746.6 160.5,745.2" fill="#fff" stroke="#444" stroke-width="0.8" stroke-linejoin="round"/>
<ellipse cx="165.4" cy="734.6" rx="1.2" ry="0.95" fill="#888" stroke="#333" stroke-width="0.5"/>
<ellipse cx="160" cy="741" rx="1.2" ry="0.95" fill="#888" stroke="#333" stroke-width="0.5"/>
<ellipse cx="163.2" cy="744" rx="1.2" ry="0.95" fill="#888" stroke="#333" stroke-width="0.5"/>
<ellipse cx="207.3" cy="759.2" rx="1.2" ry="0.95" fill="#888" stroke="#333" stroke-width="0.5"/>
<ellipse cx="215.3" cy="763.6" rx="1.2" ry="0.95" fill="#888" stroke="#333" stroke-width="0.5"/>
<ellipse cx="201.5" cy="767.5" rx="1.2" ry="0.95" fill="#888" stroke="#333" stroke-width="0.5"/>
<ellipse cx="257.3" cy="787.3" rx="1.2" ry="0.95" fill="#888" stroke="#333" stroke-width="0.5"/>
<ellipse cx="243" cy="790" rx="1.2" ry="0.95" fill="#888" stroke="#333" stroke-width="0.5"/>
<ellipse cx="249.5" cy="792.4" rx="1.2" ry="0.95" fill="#888" stroke="#333" stroke-width="0.5"/>
<ellipse cx="313.2" cy="751" rx="1.2" ry="0.95" fill="#888" stroke="#333" stroke-width="0.5"/>
<ellipse cx="319.6" cy="749.5" rx="1.2" ry="0.95" fill="#888" stroke="#333" stroke-width="0.5"/>
<polygon points="210.0,722.1 269.5,686.1 269.5,701.1 210.0,740.6" fill="#f1f1f1" stroke="#444" stroke-width="0.6"/>
<path d="M210.0,736.6 L269.5,697.6 M210.0,724.3 L269.5,688.3" stroke="#666" stroke-width="0.5" fill="none"/>
<path d="M216.6,729.9 v-6 a1.1,1.2 0 0 1 2.2,0 v4.8" fill="#fff" stroke="#444" stroke-width="0.55"/>
<path d="M226.8,723.8 v-6 a1.1,1.2 0 0 1 2.2,0 v4.8" fill="#fff" stroke="#444" stroke-width="0.55"/>
<path d="M238.7,716.6 v-6 a1.1,1.2 0 0 1 2.2,0 v4.8" fill="#fff" stroke="#444" stroke-width="0.55"/>
<path d="M244.6,713.0 v-6 a1.1,1.2 0 0 1 2.2,0 v4.8" fill="#fff" stroke="#444" stroke-width="0.55"/>
<path d="M260.7,703.3 v-6 a1.1,1.2 0 0 1 2.2,0 v4.8" fill="#fff" stroke="#444" stroke-width="0.55"/>
<polygon points="162.0,695.6 210.0,722.1 210.0,740.6 162.0,713.1" fill="#d6d6d6" stroke="#444" stroke-width="0.6"/>
<path d="M162.0,697.9 L210.0,724.4" stroke="#555" stroke-width="0.5"/>
<path d="M162.0,705.8 L210.0,732.3" stroke="#666" stroke-width="0.6"/>
<rect x="169.2" y="703.4" width="1" height="1" fill="#444"/>
<rect x="177.8" y="708.2" width="1" height="1" fill="#444"/>
<rect x="186.5" y="713.0" width="1" height="1" fill="#444"/>
<rect x="193.2" y="716.7" width="1" height="1" fill="#444"/>
<rect x="197.0" y="718.8" width="1" height="1" fill="#444"/>
<ellipse cx="172.1" cy="709.4" rx="2.7" ry="3.0" fill="#1c1c1c"/>
<ellipse cx="172.4" cy="709.5" rx="1.1" ry="1.4" fill="#9a9a9a"/>
<path d="M174.7,706.8 l1.6,0.9 v4.6 l-1.6,0.6" fill="#888" stroke="#333" stroke-width="0.4"/>
<ellipse cx="180.0" cy="713.7" rx="2.7" ry="3.0" fill="#1c1c1c"/>
<ellipse cx="180.3" cy="713.8" rx="1.1" ry="1.4" fill="#9a9a9a"/>
<path d="M182.6,711.1 l1.6,0.9 v4.6 l-1.6,0.6" fill="#888" stroke="#333" stroke-width="0.4"/>
<ellipse cx="187.9" cy="718.1" rx="2.7" ry="3.0" fill="#1c1c1c"/>
<ellipse cx="188.2" cy="718.2" rx="1.1" ry="1.4" fill="#9a9a9a"/>
<path d="M190.5,715.5 l1.6,0.9 v4.6 l-1.6,0.6" fill="#888" stroke="#333" stroke-width="0.4"/>
<ellipse cx="172.1" cy="717.6" rx="2.7" ry="3.0" fill="#1c1c1c"/>
<ellipse cx="172.4" cy="717.7" rx="1.1" ry="1.4" fill="#9a9a9a"/>
<path d="M174.7,715.0 l1.6,0.9 v4.6 l-1.6,0.6" fill="#888" stroke="#333" stroke-width="0.4"/>
<ellipse cx="180.0" cy="721.9" rx="2.7" ry="3.0" fill="#1c1c1c"/>
<ellipse cx="180.3" cy="722.0" rx="1.1" ry="1.4" fill="#9a9a9a"/>
<path d="M182.6,719.3 l1.6,0.9 v4.6 l-1.6,0.6" fill="#888" stroke="#333" stroke-width="0.4"/>
<ellipse cx="187.9" cy="726.3" rx="2.7" ry="3.0" fill="#1c1c1c"/>
<ellipse cx="188.2" cy="726.4" rx="1.1" ry="1.4" fill="#9a9a9a"/>
<path d="M190.5,723.7 l1.6,0.9 v4.6 l-1.6,0.6" fill="#888" stroke="#333" stroke-width="0.4"/>
<rect x="191.9" y="720.1" width="5.5" height="3.2" fill="#bbb" stroke="#555" stroke-width="0.4" transform="skewY(28) translate(0,-103.0)"/>
<rect x="191.9" y="728.1" width="5.5" height="3.2" fill="#bbb" stroke="#555" stroke-width="0.4" transform="skewY(28) translate(0,-103.0)"/>
<polygon points="161.7,698.2 165.6,700.2 165.6,716.2 161.7,714.2" fill="#4a4a4a" stroke="#222" stroke-width="0.4"/>
<path d="M162.0,700.4 L165.3,702.4" stroke="#dedede" stroke-width="1.1"/>
<path d="M162.0,703.5 L165.3,705.5" stroke="#dedede" stroke-width="1.1"/>
<path d="M162.0,706.6 L165.3,708.6" stroke="#dedede" stroke-width="1.1"/>
<path d="M162.0,709.7 L165.3,711.7" stroke="#dedede" stroke-width="1.1"/>
<path d="M162.0,712.8 L165.3,714.8" stroke="#dedede" stroke-width="1.1"/>
<polygon points="201.5,720.7 209.8,724.3 209.8,740.3 201.5,736.7" fill="#4a4a4a" stroke="#222" stroke-width="0.4"/>
<path d="M201.8,722.9 L209.5,726.5" stroke="#dedede" stroke-width="1.1"/>
<path d="M201.8,726.0 L209.5,729.6" stroke="#dedede" stroke-width="1.1"/>
<path d="M201.8,729.1 L209.5,732.7" stroke="#dedede" stroke-width="1.1"/>
<path d="M201.8,732.2 L209.5,735.8" stroke="#dedede" stroke-width="1.1"/>
<path d="M201.8,735.3 L209.5,738.9" stroke="#dedede" stroke-width="1.1"/>
<polygon points="162.0,695.6 221.5,659.6 269.5,686.1 210.0,722.1" fill="#f8f8f8" stroke="#444" stroke-width="0.7" stroke-linejoin="round"/>
<path d="M163.8,694.5 L211.8,721.0" stroke="#777" stroke-width="0.4"/>
<path d="M217.9,661.8 L265.9,688.3" stroke="#666" stroke-width="0.5"/>
<polygon points="177.4,692.4 176.5,691.6 176.2,690.7 176.6,689.8 177.5,689.0 216.5,665.4 217.8,664.9 219.4,664.6 221.0,664.7 222.3,665.2 259.5,685.8 260.4,686.5 260.7,687.4 260.3,688.3 259.4,689.1 220.4,712.7 219.1,713.3 217.5,713.5 215.9,713.4 214.6,712.9" fill="#f6f6f6" stroke="#555" stroke-width="0.55"/>
<polygon points="182.0,691.8 181.3,691.2 181.0,690.5 181.2,689.7 182.0,689.1 217.1,667.8 218.2,667.4 219.5,667.2 220.8,667.3 221.9,667.7 255.2,686.1 256.0,686.7 256.2,687.5 256.0,688.2 255.2,688.9 220.1,710.1 219.0,710.6 217.7,710.8 216.5,710.6 215.4,710.3" fill="#fbfbfb" stroke="#666" stroke-width="0.5"/>
<ellipse cx="167.8" cy="695.7" rx="2.0" ry="1.5" fill="#c8c8c8" stroke="#222" stroke-width="0.7"/>
<ellipse cx="167.8" cy="695.7" rx="0.8" ry="0.6" fill="#fff"/>
<ellipse cx="209.6" cy="718.8" rx="2.0" ry="1.5" fill="#c8c8c8" stroke="#222" stroke-width="0.7"/>
<ellipse cx="209.6" cy="718.8" rx="0.8" ry="0.6" fill="#fff"/>
<ellipse cx="223.9" cy="663.1" rx="2.0" ry="1.5" fill="#c8c8c8" stroke="#222" stroke-width="0.7"/>
<ellipse cx="223.9" cy="663.1" rx="0.8" ry="0.6" fill="#fff"/>
<ellipse cx="263.3" cy="684.9" rx="2.0" ry="1.5" fill="#c8c8c8" stroke="#222" stroke-width="0.7"/>
<ellipse cx="263.3" cy="684.9" rx="0.8" ry="0.6" fill="#fff"/>
<path d="M174.1,697.1 L207.7,715.7" stroke="#555" stroke-width="0.7" stroke-dasharray="0.7,2.4"/>
<path d="M177.1,695.3 L210.7,713.9" stroke="#888" stroke-width="0.6" stroke-dasharray="0.7,3.1"/>
<path d="M227.3,665.0 L260.9,683.5" stroke="#444" stroke-width="1.0" stroke-dasharray="1.6,2.6"/>
<polygon points="262.5,751.0 322.0,715.0 322.0,730.0 262.5,769.5" fill="#f1f1f1" stroke="#444" stroke-width="0.6"/>
<path d="M262.5,765.5 L322.0,726.5 M262.5,753.2 L322.0,717.2" stroke="#666" stroke-width="0.5" fill="none"/>
<path d="M269.1,758.8 v-6 a1.1,1.2 0 0 1 2.2,0 v4.8" fill="#fff" stroke="#444" stroke-width="0.55"/>
<path d="M279.2,752.7 v-6 a1.1,1.2 0 0 1 2.2,0 v4.8" fill="#fff" stroke="#444" stroke-width="0.55"/>
<path d="M291.1,745.5 v-6 a1.1,1.2 0 0 1 2.2,0 v4.8" fill="#fff" stroke="#444" stroke-width="0.55"/>
<path d="M297.1,741.9 v-6 a1.1,1.2 0 0 1 2.2,0 v4.8" fill="#fff" stroke="#444" stroke-width="0.55"/>
<path d="M313.2,732.2 v-6 a1.1,1.2 0 0 1 2.2,0 v4.8" fill="#fff" stroke="#444" stroke-width="0.55"/>
<polygon points="214.5,724.5 262.5,751.0 262.5,769.5 214.5,742.0" fill="#d6d6d6" stroke="#444" stroke-width="0.6"/>
<path d="M214.5,726.8 L262.5,753.3" stroke="#555" stroke-width="0.5"/>
<path d="M214.5,734.7 L262.5,761.2" stroke="#666" stroke-width="0.6"/>
<rect x="221.7" y="732.3" width="1" height="1" fill="#444"/>
<rect x="230.3" y="737.1" width="1" height="1" fill="#444"/>
<rect x="239.0" y="741.9" width="1" height="1" fill="#444"/>
<rect x="245.7" y="745.6" width="1" height="1" fill="#444"/>
<rect x="249.5" y="747.7" width="1" height="1" fill="#444"/>
<ellipse cx="224.6" cy="738.3" rx="2.7" ry="3.0" fill="#1c1c1c"/>
<ellipse cx="224.9" cy="738.4" rx="1.1" ry="1.4" fill="#9a9a9a"/>
<path d="M227.2,735.7 l1.6,0.9 v4.6 l-1.6,0.6" fill="#888" stroke="#333" stroke-width="0.4"/>
<ellipse cx="232.5" cy="742.6" rx="2.7" ry="3.0" fill="#1c1c1c"/>
<ellipse cx="232.8" cy="742.7" rx="1.1" ry="1.4" fill="#9a9a9a"/>
<path d="M235.1,740.0 l1.6,0.9 v4.6 l-1.6,0.6" fill="#888" stroke="#333" stroke-width="0.4"/>
<ellipse cx="240.4" cy="747.0" rx="2.7" ry="3.0" fill="#1c1c1c"/>
<ellipse cx="240.7" cy="747.1" rx="1.1" ry="1.4" fill="#9a9a9a"/>
<path d="M243.0,744.4 l1.6,0.9 v4.6 l-1.6,0.6" fill="#888" stroke="#333" stroke-width="0.4"/>
<ellipse cx="224.6" cy="746.5" rx="2.7" ry="3.0" fill="#1c1c1c"/>
<ellipse cx="224.9" cy="746.6" rx="1.1" ry="1.4" fill="#9a9a9a"/>
<path d="M227.2,743.9 l1.6,0.9 v4.6 l-1.6,0.6" fill="#888" stroke="#333" stroke-width="0.4"/>
<ellipse cx="232.5" cy="750.8" rx="2.7" ry="3.0" fill="#1c1c1c"/>
<ellipse cx="232.8" cy="750.9" rx="1.1" ry="1.4" fill="#9a9a9a"/>
<path d="M235.1,748.2 l1.6,0.9 v4.6 l-1.6,0.6" fill="#888" stroke="#333" stroke-width="0.4"/>
<ellipse cx="240.4" cy="755.2" rx="2.7" ry="3.0" fill="#1c1c1c"/>
<ellipse cx="240.7" cy="755.3" rx="1.1" ry="1.4" fill="#9a9a9a"/>
<path d="M243.0,752.6 l1.6,0.9 v4.6 l-1.6,0.6" fill="#888" stroke="#333" stroke-width="0.4"/>
<rect x="244.4" y="749.0" width="5.5" height="3.2" fill="#bbb" stroke="#555" stroke-width="0.4" transform="skewY(28) translate(0,-130.9)"/>
<rect x="244.4" y="757.0" width="5.5" height="3.2" fill="#bbb" stroke="#555" stroke-width="0.4" transform="skewY(28) translate(0,-130.9)"/>
<polygon points="214.2,727.1 218.1,729.1 218.1,745.1 214.2,743.1" fill="#4a4a4a" stroke="#222" stroke-width="0.4"/>
<path d="M214.5,729.3 L217.8,731.3" stroke="#dedede" stroke-width="1.1"/>
<path d="M214.5,732.4 L217.8,734.4" stroke="#dedede" stroke-width="1.1"/>
<path d="M214.5,735.5 L217.8,737.5" stroke="#dedede" stroke-width="1.1"/>
<path d="M214.5,738.6 L217.8,740.6" stroke="#dedede" stroke-width="1.1"/>
<path d="M214.5,741.7 L217.8,743.7" stroke="#dedede" stroke-width="1.1"/>
<polygon points="254.0,749.6 262.3,753.2 262.3,769.2 254.0,765.6" fill="#4a4a4a" stroke="#222" stroke-width="0.4"/>
<path d="M254.3,751.8 L262.0,755.4" stroke="#dedede" stroke-width="1.1"/>
<path d="M254.3,754.9 L262.0,758.5" stroke="#dedede" stroke-width="1.1"/>
<path d="M254.3,758.0 L262.0,761.6" stroke="#dedede" stroke-width="1.1"/>
<path d="M254.3,761.1 L262.0,764.7" stroke="#dedede" stroke-width="1.1"/>
<path d="M254.3,764.2 L262.0,767.8" stroke="#dedede" stroke-width="1.1"/>
<polygon points="214.5,724.5 274.0,688.5 322.0,715.0 262.5,751.0" fill="#f8f8f8" stroke="#444" stroke-width="0.7" stroke-linejoin="round"/>
<path d="M216.3,723.4 L264.3,749.9" stroke="#777" stroke-width="0.4"/>
<path d="M270.4,690.7 L318.4,717.2" stroke="#666" stroke-width="0.5"/>
<polygon points="229.9,721.3 229.0,720.5 228.7,719.6 229.1,718.7 230.0,717.9 269.0,694.3 270.3,693.8 271.9,693.5 273.5,693.6 274.8,694.1 312.0,714.7 312.9,715.4 313.2,716.3 312.8,717.2 311.9,718.0 272.9,741.6 271.6,742.2 270.0,742.4 268.4,742.3 267.1,741.8" fill="#f6f6f6" stroke="#555" stroke-width="0.55"/>
<polygon points="234.5,720.7 233.8,720.1 233.5,719.4 233.7,718.6 234.5,718.0 269.6,696.7 270.7,696.3 272.0,696.1 273.3,696.2 274.4,696.6 307.7,715.0 308.5,715.6 308.7,716.4 308.5,717.1 307.7,717.8 272.6,739.0 271.5,739.5 270.2,739.7 269.0,739.5 267.9,739.2" fill="#fbfbfb" stroke="#666" stroke-width="0.5"/>
<ellipse cx="220.3" cy="724.6" rx="2.0" ry="1.5" fill="#c8c8c8" stroke="#222" stroke-width="0.7"/>
<ellipse cx="220.3" cy="724.6" rx="0.8" ry="0.6" fill="#fff"/>
<ellipse cx="262.1" cy="747.7" rx="2.0" ry="1.5" fill="#c8c8c8" stroke="#222" stroke-width="0.7"/>
<ellipse cx="262.1" cy="747.7" rx="0.8" ry="0.6" fill="#fff"/>
<ellipse cx="276.4" cy="692.0" rx="2.0" ry="1.5" fill="#c8c8c8" stroke="#222" stroke-width="0.7"/>
<ellipse cx="276.4" cy="692.0" rx="0.8" ry="0.6" fill="#fff"/>
<ellipse cx="315.8" cy="713.8" rx="2.0" ry="1.5" fill="#c8c8c8" stroke="#222" stroke-width="0.7"/>
<ellipse cx="315.8" cy="713.8" rx="0.8" ry="0.6" fill="#fff"/>
<path d="M226.6,726.0 L260.2,744.6" stroke="#555" stroke-width="0.7" stroke-dasharray="0.7,2.4"/>
<path d="M229.6,724.2 L263.2,742.8" stroke="#888" stroke-width="0.6" stroke-dasharray="0.7,3.1"/>
<path d="M279.8,693.9 L313.4,712.4" stroke="#444" stroke-width="1.0" stroke-dasharray="1.6,2.6"/>
<polygon points="163.0,657.5 223.8,620.6 232.0,625.3 238.0,625.2 241.4,627.1 240.3,630.1 301.8,665.1 307.8,664.9 311.7,667.1 310.5,670.1 321.2,676.2 266.2,709.4 267.1,712.9 263.4,714.5 257.3,713.1 178.3,666.5 172.7,666.5 168.9,664.2 169.7,661.4" fill="#fff" stroke="#333" stroke-width="0.85" stroke-linejoin="round"/>
<polygon points="177.7,654.5 177.3,654.2 177.1,653.9 177.1,653.6 177.3,653.4 218.4,628.4 218.8,628.3 219.3,628.3 219.8,628.4 220.3,628.7 220.5,628.8 220.9,629.1 221.1,629.4 221.1,629.7 220.9,629.9 179.8,654.9 179.4,655.0 178.9,655.0 178.4,654.9 177.9,654.6" fill="#fff" stroke="#333" stroke-width="0.65"/>
<polygon points="215.5,676.7 215.1,676.4 214.9,676.1 214.9,675.8 215.1,675.6 256.7,650.4 257.1,650.3 257.6,650.3 258.1,650.4 258.6,650.6 258.8,650.7 259.2,651.0 259.4,651.3 259.4,651.6 259.2,651.9 217.6,677.0 217.2,677.2 216.8,677.2 216.2,677.0 215.7,676.8" fill="#fff" stroke="#333" stroke-width="0.65"/>
<polygon points="179.6,663.7 179.3,663.3 179.1,663.0 179.3,662.6 179.6,662.3 179.8,662.2 180.3,662.0 180.9,661.9 181.6,662.0 182.1,662.2 202.8,674.3 203.1,674.7 203.3,675.0 203.2,675.4 202.8,675.7 202.6,675.8 202.1,676.0 201.5,676.1 200.9,676.0 200.3,675.8" fill="#fff" stroke="#333" stroke-width="0.65"/>
<polygon points="232.1,631.8 231.7,631.5 231.6,631.2 231.7,630.8 232.0,630.5 232.3,630.4 232.8,630.1 233.4,630.1 234.0,630.1 234.5,630.4 255.6,642.4 255.9,642.7 256.1,643.0 256.0,643.4 255.6,643.7 255.4,643.9 254.9,644.1 254.3,644.1 253.7,644.1 253.1,643.9" fill="#fff" stroke="#333" stroke-width="0.65"/>
<polygon points="190.1,653.1 216.9,636.8 213.2,650.5" fill="#f4f4f4" stroke="#333" stroke-width="0.7" stroke-linejoin="round"/>
<polygon points="218.0,669.4 245.1,653.0 221.9,655.6" fill="#f4f4f4" stroke="#333" stroke-width="0.7" stroke-linejoin="round"/>
<polygon points="186.8,659.1 207.9,671.5 210.2,657.5" fill="#f4f4f4" stroke="#333" stroke-width="0.7" stroke-linejoin="round"/>
<polygon points="227.0,634.7 248.4,647.0 224.9,648.6" fill="#f4f4f4" stroke="#333" stroke-width="0.7" stroke-linejoin="round"/>
<ellipse cx="217.5" cy="653.1" rx="1.0" ry="0.8" fill="#555"/>
<polygon points="225.7,682.7 225.3,682.4 225.1,682.1 225.1,681.8 225.3,681.5 267.0,656.3 267.4,656.2 267.9,656.2 268.4,656.3 268.9,656.5 269.1,656.7 269.5,656.9 269.7,657.3 269.7,657.5 269.5,657.8 227.8,683.0 227.4,683.1 226.9,683.1 226.4,683.0 225.9,682.8" fill="#fff" stroke="#333" stroke-width="0.65"/>
<polygon points="263.5,704.8 263.1,704.5 262.9,704.2 262.9,703.9 263.1,703.7 305.3,678.3 305.7,678.2 306.2,678.2 306.7,678.3 307.2,678.5 307.4,678.6 307.8,678.9 308.0,679.2 308.1,679.5 307.9,679.7 265.6,705.2 265.2,705.3 264.8,705.3 264.2,705.2 263.7,704.9" fill="#fff" stroke="#333" stroke-width="0.65"/>
<polygon points="227.5,691.8 227.2,691.5 227.0,691.2 227.2,690.8 227.5,690.5 227.7,690.3 228.3,690.1 228.9,690.1 229.5,690.1 230.0,690.3 250.7,702.5 251.1,702.8 251.2,703.2 251.1,703.6 250.7,703.9 250.5,704.0 250.0,704.2 249.4,704.3 248.8,704.2 248.2,704.0" fill="#fff" stroke="#333" stroke-width="0.65"/>
<polygon points="280.8,659.7 280.4,659.4 280.3,659.0 280.4,658.7 280.7,658.4 281.0,658.2 281.5,658.0 282.1,657.9 282.7,658.0 283.2,658.2 304.3,670.2 304.7,670.5 304.8,670.9 304.7,671.3 304.3,671.6 304.1,671.7 303.6,671.9 303.0,672.0 302.3,671.9 301.8,671.7" fill="#fff" stroke="#333" stroke-width="0.65"/>
<polygon points="238.2,681.2 265.4,664.7 261.5,678.5" fill="#f4f4f4" stroke="#333" stroke-width="0.7" stroke-linejoin="round"/>
<polygon points="266.1,697.5 293.6,680.9 270.2,683.6" fill="#f4f4f4" stroke="#333" stroke-width="0.7" stroke-linejoin="round"/>
<polygon points="234.8,687.2 255.9,699.6 258.4,685.6" fill="#f4f4f4" stroke="#333" stroke-width="0.7" stroke-linejoin="round"/>
<polygon points="275.6,662.6 297.0,674.8 273.3,676.6" fill="#f4f4f4" stroke="#333" stroke-width="0.7" stroke-linejoin="round"/>
<ellipse cx="265.8" cy="681.1" rx="1.0" ry="0.8" fill="#555"/>
<ellipse cx="237.9" cy="626.9" rx="1.3" ry="0.95" fill="#ddd" stroke="#333" stroke-width="0.5"/>
<ellipse cx="172.3" cy="664.4" rx="1.3" ry="0.95" fill="#ddd" stroke="#333" stroke-width="0.5"/>
<ellipse cx="308.2" cy="667.0" rx="1.3" ry="0.95" fill="#ddd" stroke="#333" stroke-width="0.5"/>
<ellipse cx="263.1" cy="712.4" rx="1.3" ry="0.95" fill="#ddd" stroke="#333" stroke-width="0.5"/>
<ellipse cx="270.7" cy="649.5" rx="1.3" ry="0.95" fill="#ddd" stroke="#333" stroke-width="0.5"/>
<ellipse cx="212.7" cy="684.6" rx="1.3" ry="0.95" fill="#ddd" stroke="#333" stroke-width="0.5"/>
<ellipse cx="170.4" cy="656.4" rx="1.3" ry="0.95" fill="#ddd" stroke="#333" stroke-width="0.5"/>
<ellipse cx="254.1" cy="640.1" rx="1.3" ry="0.95" fill="#ddd" stroke="#333" stroke-width="0.5"/>
<ellipse cx="264.8" cy="646.2" rx="1.3" ry="0.95" fill="#ddd" stroke="#333" stroke-width="0.5"/>
<path d="M228.9,637 V650" stroke="#d0252b" stroke-width="1.15" stroke-dasharray="4.2,2.3" fill="none"/>
<path d="M263.7,652 V672" stroke="#d0252b" stroke-width="1.15" stroke-dasharray="4.2,2.3" fill="none"/>
<path d="M278.8,660 V690" stroke="#d0252b" stroke-width="1.15" stroke-dasharray="4.2,2.3" fill="none"/>
<path d="M165.0,646 V656.5" stroke="#d0252b" stroke-width="1.15" stroke-dasharray="4.2,2.3" fill="none"/>
<path d="M165.0,662 V694" stroke="#d0252b" stroke-width="1.15" stroke-dasharray="4.2,2.3" fill="none"/>
<path d="M165.0,701 V729.2" stroke="#d0252b" stroke-width="1.15" stroke-dasharray="4.2,2.3" fill="none"/>
<path d="M160.8,723.2 L165.0,730.2 L169.2,723.2" stroke="#d0252b" stroke-width="1.15" fill="none"/>
<rect x="164.2" y="636.874" width="1.6" height="8.625999999999976" fill="#f0f0f0" stroke="#555" stroke-width="0.45"/>
<rect x="163.75" y="622.8" width="2.5" height="14.07400000000007" fill="#e2e2e2" stroke="#555" stroke-width="0.45"/>
<ellipse cx="165.0" cy="622.8" rx="2.3" ry="2.0" fill="#3a3a3a" stroke="#111" stroke-width="0.5"/>
<ellipse cx="165.0" cy="622.5" rx="0.9" ry="0.75" fill="#bbb"/>
<path d="M228.9,614.5 V624.8" stroke="#d0252b" stroke-width="1.15" stroke-dasharray="4.2,2.3" fill="none"/>
<rect x="228.1" y="604.994" width="1.6" height="9.005999999999972" fill="#f0f0f0" stroke="#555" stroke-width="0.45"/>
<rect x="227.65" y="590.3" width="2.5" height="14.694000000000074" fill="#e2e2e2" stroke="#555" stroke-width="0.45"/>
<ellipse cx="228.9" cy="590.3" rx="2.3" ry="2.0" fill="#3a3a3a" stroke="#111" stroke-width="0.5"/>
<ellipse cx="228.9" cy="590.0" rx="0.9" ry="0.75" fill="#bbb"/>
<path d="M263.7,631.5 V645" stroke="#d0252b" stroke-width="1.15" stroke-dasharray="4.2,2.3" fill="none"/>
<rect x="262.9" y="622.938" width="1.6" height="7.562000000000012" fill="#f0f0f0" stroke="#555" stroke-width="0.45"/>
<rect x="262.45" y="610.6" width="2.5" height="12.337999999999965" fill="#e2e2e2" stroke="#555" stroke-width="0.45"/>
<ellipse cx="263.7" cy="610.6" rx="2.3" ry="2.0" fill="#3a3a3a" stroke="#111" stroke-width="0.5"/>
<ellipse cx="263.7" cy="610.3000000000001" rx="0.9" ry="0.75" fill="#bbb"/>
<path d="M278.8,640.5 V654" stroke="#d0252b" stroke-width="1.15" stroke-dasharray="4.2,2.3" fill="none"/>
<rect x="278.0" y="631.8480000000001" width="1.6" height="7.751999999999953" fill="#f0f0f0" stroke="#555" stroke-width="0.45"/>
<rect x="277.55" y="619.2" width="2.5" height="12.648000000000025" fill="#e2e2e2" stroke="#555" stroke-width="0.45"/>
<ellipse cx="278.8" cy="619.2" rx="2.3" ry="2.0" fill="#3a3a3a" stroke="#111" stroke-width="0.5"/>
<ellipse cx="278.8" cy="618.9000000000001" rx="0.9" ry="0.75" fill="#bbb"/>
<path d="M313.2,660 V673.5" stroke="#d0252b" stroke-width="1.15" stroke-dasharray="4.2,2.3" fill="none"/>
<path d="M313.2,680 V714" stroke="#d0252b" stroke-width="1.15" stroke-dasharray="4.2,2.3" fill="none"/>
<path d="M313.2,720 V745.8" stroke="#d0252b" stroke-width="1.15" stroke-dasharray="4.2,2.3" fill="none"/>
<path d="M309.0,739.8 L313.2,746.8 L317.4,739.8" stroke="#d0252b" stroke-width="1.15" fill="none"/>
<rect x="312.4" y="651.4" width="1.6" height="7.600000000000023" fill="#f0f0f0" stroke="#555" stroke-width="0.45"/>
<rect x="311.95" y="639.0" width="2.5" height="12.399999999999977" fill="#e2e2e2" stroke="#555" stroke-width="0.45"/>
<ellipse cx="313.2" cy="639.0" rx="2.3" ry="2.0" fill="#3a3a3a" stroke="#111" stroke-width="0.5"/>
<ellipse cx="313.2" cy="638.7" rx="0.9" ry="0.75" fill="#bbb"/>
<path d="M207.3,670 V684" stroke="#d0252b" stroke-width="1.15" stroke-dasharray="4.2,2.3" fill="none"/>
<path d="M207.3,690 V719.5" stroke="#d0252b" stroke-width="1.15" stroke-dasharray="4.2,2.3" fill="none"/>
<path d="M207.3,727 V754.2" stroke="#d0252b" stroke-width="1.15" stroke-dasharray="4.2,2.3" fill="none"/>
<path d="M203.10000000000002,748.2 L207.3,755.2 L211.5,748.2" stroke="#d0252b" stroke-width="1.15" fill="none"/>
<rect x="206.5" y="660.64" width="1.6" height="8.360000000000014" fill="#f0f0f0" stroke="#555" stroke-width="0.45"/>
<rect x="206.05" y="647.0" width="2.5" height="13.639999999999986" fill="#e2e2e2" stroke="#555" stroke-width="0.45"/>
<ellipse cx="207.3" cy="647.0" rx="2.3" ry="2.0" fill="#3a3a3a" stroke="#111" stroke-width="0.5"/>
<ellipse cx="207.3" cy="646.7" rx="0.9" ry="0.75" fill="#bbb"/>
<path d="M215.4,673.5 V689" stroke="#d0252b" stroke-width="1.15" stroke-dasharray="4.2,2.3" fill="none"/>
<path d="M215.4,694 V723.5" stroke="#d0252b" stroke-width="1.15" stroke-dasharray="4.2,2.3" fill="none"/>
<path d="M215.4,731 V759.2" stroke="#d0252b" stroke-width="1.15" stroke-dasharray="4.2,2.3" fill="none"/>
<path d="M211.20000000000002,753.2 L215.4,760.2 L219.6,753.2" stroke="#d0252b" stroke-width="1.15" fill="none"/>
<rect x="214.6" y="664.71" width="1.6" height="7.789999999999964" fill="#f0f0f0" stroke="#555" stroke-width="0.45"/>
<rect x="214.15" y="652.0" width="2.5" height="12.710000000000036" fill="#e2e2e2" stroke="#555" stroke-width="0.45"/>
<ellipse cx="215.4" cy="652.0" rx="2.3" ry="2.0" fill="#3a3a3a" stroke="#111" stroke-width="0.5"/>
<ellipse cx="215.4" cy="651.7" rx="0.9" ry="0.75" fill="#bbb"/>
<path d="M257.0,696.8 V708.5" stroke="#d0252b" stroke-width="1.15" stroke-dasharray="4.2,2.3" fill="none"/>
<path d="M257.0,714 V749.5" stroke="#d0252b" stroke-width="1.15" stroke-dasharray="4.2,2.3" fill="none"/>
<path d="M257.0,756 V782.2" stroke="#d0252b" stroke-width="1.15" stroke-dasharray="4.2,2.3" fill="none"/>
<path d="M252.8,776.2 L257.0,783.2 L261.2,776.2" stroke="#d0252b" stroke-width="1.15" fill="none"/>
<rect x="256.2" y="688.466" width="1.6" height="7.333999999999946" fill="#f0f0f0" stroke="#555" stroke-width="0.45"/>
<rect x="255.75" y="676.5" width="2.5" height="11.966000000000008" fill="#e2e2e2" stroke="#555" stroke-width="0.45"/>
<ellipse cx="257.0" cy="676.5" rx="2.3" ry="2.0" fill="#3a3a3a" stroke="#111" stroke-width="0.5"/>
<ellipse cx="257.0" cy="676.2" rx="0.9" ry="0.75" fill="#bbb"/>
<clipPath id="vclip"><rect x="430.5" y="590" width="300" height="210"/></clipPath>
<g clip-path="url(#vclip)">
<polygon points="444.2,615.6 446.6,616.4 447.4,618.5 447.6,651.0 424.0,678.0 424.0,637.5" fill="#fff" stroke="#444" stroke-width="0.75" stroke-linejoin="round"/>
<path d="M443.0,618.2 L426,637.4 M441.4,617.2 L424.8,636 M445.0,617.4 V652.6" stroke="#666" stroke-width="0.5" fill="none"/>
<path d="M435.5,647.0 l4.2,-3.8" stroke="#444" stroke-width="1.8" stroke-linecap="round"/>
<path d="M435.5,647.0 l4.2,-3.8" stroke="#fff" stroke-width="0.8" stroke-linecap="round"/>
<path d="M435.7,657.0 l4.2,-3.8" stroke="#444" stroke-width="1.8" stroke-linecap="round"/>
<path d="M435.7,657.0 l4.2,-3.8" stroke="#fff" stroke-width="0.8" stroke-linecap="round"/>
<path d="M430.0,654.5 l2.0,-3.8" stroke="#444" stroke-width="1.8" stroke-linecap="round"/>
<path d="M430.0,654.5 l2.0,-3.8" stroke="#fff" stroke-width="0.8" stroke-linecap="round"/>
<path d="M430.0,664.0 l2.0,-3.8" stroke="#444" stroke-width="1.8" stroke-linecap="round"/>
<path d="M430.0,664.0 l2.0,-3.8" stroke="#fff" stroke-width="0.8" stroke-linecap="round"/>
<circle cx="438.2" cy="637.6" r="0.75" fill="#333"/>
<circle cx="442.0" cy="635.6" r="0.75" fill="#333"/>
<circle cx="446.2" cy="641.5" r="0.75" fill="#333"/>
<circle cx="441.2" cy="643.4" r="0.75" fill="#333"/>
</g>
<path d="M516.9,603.8 l-24.5,23.5" stroke="#d4474b" stroke-width="0.6" stroke-dasharray="2.4,1.8" fill="none" opacity="0.8"/>
<path d="M528.9,607.0 l-24.5,23.5" stroke="#d4474b" stroke-width="0.6" stroke-dasharray="2.4,1.8" fill="none" opacity="0.8"/>
<path d="M540.9,610.4 l-24.5,23.5" stroke="#d4474b" stroke-width="0.6" stroke-dasharray="2.4,1.8" fill="none" opacity="0.8"/>
<path d="M552.8,613.6 l-24.5,23.5" stroke="#d4474b" stroke-width="0.6" stroke-dasharray="2.4,1.8" fill="none" opacity="0.8"/>
<path d="M564.8,617.0 l-24.5,23.5" stroke="#d4474b" stroke-width="0.6" stroke-dasharray="2.4,1.8" fill="none" opacity="0.8"/>
<path d="M576.8,620.2 l-24.5,23.5" stroke="#d4474b" stroke-width="0.6" stroke-dasharray="2.4,1.8" fill="none" opacity="0.8"/>
<path d="M588.8,623.5 l-24.5,23.5" stroke="#d4474b" stroke-width="0.6" stroke-dasharray="2.4,1.8" fill="none" opacity="0.8"/>
<path d="M600.8,626.9 l-24.5,23.5" stroke="#d4474b" stroke-width="0.6" stroke-dasharray="2.4,1.8" fill="none" opacity="0.8"/>
<path d="M612.7,630.1 l-24.5,23.5" stroke="#d4474b" stroke-width="0.6" stroke-dasharray="2.4,1.8" fill="none" opacity="0.8"/>
<path d="M624.7,633.5 l-24.5,23.5" stroke="#d4474b" stroke-width="0.6" stroke-dasharray="2.4,1.8" fill="none" opacity="0.8"/>
<path d="M636.7,636.8 l-24.5,23.5" stroke="#d4474b" stroke-width="0.6" stroke-dasharray="2.4,1.8" fill="none" opacity="0.8"/>
<path d="M648.7,640.0 l-24.5,23.5" stroke="#d4474b" stroke-width="0.6" stroke-dasharray="2.4,1.8" fill="none" opacity="0.8"/>
<path d="M660.7,643.4 l-21.6,20.7" stroke="#d4474b" stroke-width="0.6" stroke-dasharray="2.4,1.8" fill="none" opacity="0.8"/>
<polygon points="496.9,610.7 498.1,609.3 500.9,610.4 510.9,618.4 512.9,616.6 520.9,618.7 522.4,622.7 526.9,624.1 529.9,627.4 530.9,622.5 539.9,624.9 541.9,630.8 547.9,632.6 549.4,628.0 556.4,629.8 557.9,635.2 601.9,646.7 603.9,642.4 612.9,644.8 614.4,649.6 618.9,651.0 620.9,646.9 629.9,649.2 631.4,654.2 632.9,654.4 636.4,649.2 641.9,646.6 650.9,647.9 652.5,649.8 652.5,664.2 650.9,664.7 498.9,623.3 496.9,621.2" fill="#fff" stroke="#444" stroke-width="0.75" stroke-linejoin="round"/>
<path d="M502.9,622.2 L648.9,661.6" stroke="#666" stroke-width="0.5"/>
<polygon points="501.4,614.2 507.4,618.6 507.9,621.7 502.1,618.2" fill="#fff" stroke="#333" stroke-width="0.6" stroke-linejoin="round"/>
<circle cx="498.9" cy="619.5" r="0.85" fill="#fff" stroke="#444" stroke-width="0.5"/>
<circle cx="511.9" cy="621.9" r="0.85" fill="#fff" stroke="#444" stroke-width="0.5"/>
<circle cx="644.9" cy="657.0" r="0.85" fill="#fff" stroke="#444" stroke-width="0.5"/>
<circle cx="649.9" cy="653.8" r="0.85" fill="#fff" stroke="#444" stroke-width="0.5"/>
<circle cx="641.9" cy="651.7" r="0.85" fill="#fff" stroke="#444" stroke-width="0.5"/>
<circle cx="646.4" cy="650.2" r="0.85" fill="#fff" stroke="#444" stroke-width="0.5"/>
<circle cx="552.9" cy="631.5" r="0.85" fill="#fff" stroke="#444" stroke-width="0.5"/>
<circle cx="524.9" cy="626.1" r="0.85" fill="#fff" stroke="#444" stroke-width="0.5"/>
<circle cx="576.9" cy="641.8" r="0.85" fill="#fff" stroke="#444" stroke-width="0.5"/>
<circle cx="591.9" cy="645.7" r="0.85" fill="#fff" stroke="#444" stroke-width="0.5"/>
<circle cx="636.9" cy="655.9" r="0.85" fill="#fff" stroke="#444" stroke-width="0.5"/>
<ellipse cx="516.9" cy="620.2" rx="2.7" ry="1.5" fill="#ddd" stroke="#333" stroke-width="0.6"/>
<rect x="515.6" y="616.0" width="2.6" height="4" fill="#999" stroke="#333" stroke-width="0.5"/>
<ellipse cx="516.9" cy="616.0" rx="2.9" ry="1.4" fill="#eee" stroke="#333" stroke-width="0.6"/>
<circle cx="516.9" cy="614.1" r="0.9" fill="#222"/>
<ellipse cx="535.4" cy="625.1" rx="2.7" ry="1.5" fill="#ddd" stroke="#333" stroke-width="0.6"/>
<rect x="534.1" y="620.9" width="2.6" height="4" fill="#999" stroke="#333" stroke-width="0.5"/>
<ellipse cx="535.4" cy="620.9" rx="2.9" ry="1.4" fill="#eee" stroke="#333" stroke-width="0.6"/>
<circle cx="535.4" cy="619.0" r="0.9" fill="#222"/>
<ellipse cx="608.4" cy="644.2" rx="2.7" ry="1.5" fill="#ddd" stroke="#333" stroke-width="0.6"/>
<rect x="607.1" y="640.0" width="2.6" height="4" fill="#999" stroke="#333" stroke-width="0.5"/>
<ellipse cx="608.4" cy="640.0" rx="2.9" ry="1.4" fill="#eee" stroke="#333" stroke-width="0.6"/>
<circle cx="608.4" cy="638.1" r="0.9" fill="#222"/>
<ellipse cx="625.4" cy="648.7" rx="2.7" ry="1.5" fill="#ddd" stroke="#333" stroke-width="0.6"/>
<rect x="624.1" y="644.5" width="2.6" height="4" fill="#999" stroke="#333" stroke-width="0.5"/>
<ellipse cx="625.4" cy="644.5" rx="2.9" ry="1.4" fill="#eee" stroke="#333" stroke-width="0.6"/>
<circle cx="625.4" cy="642.6" r="0.9" fill="#222"/>
<circle cx="516.9" cy="603.8" r="1.5" fill="#333"/>
<circle cx="516.6" cy="603.5" r="0.5" fill="#aaa"/>
<circle cx="528.9" cy="607.0" r="1.5" fill="#333"/>
<circle cx="528.6" cy="606.8" r="0.5" fill="#aaa"/>
<circle cx="540.9" cy="610.4" r="1.5" fill="#333"/>
<circle cx="540.6" cy="610.1" r="0.5" fill="#aaa"/>
<circle cx="552.8" cy="613.6" r="1.5" fill="#333"/>
<circle cx="552.5" cy="613.4" r="0.5" fill="#aaa"/>
<circle cx="564.8" cy="617.0" r="1.5" fill="#333"/>
<circle cx="564.5" cy="616.7" r="0.5" fill="#aaa"/>
<circle cx="576.8" cy="620.2" r="1.5" fill="#333"/>
<circle cx="576.5" cy="620.0" r="0.5" fill="#aaa"/>
<circle cx="588.8" cy="623.5" r="1.5" fill="#333"/>
<circle cx="588.5" cy="623.2" r="0.5" fill="#aaa"/>
<circle cx="600.8" cy="626.9" r="1.5" fill="#333"/>
<circle cx="600.5" cy="626.6" r="0.5" fill="#aaa"/>
<circle cx="612.7" cy="630.1" r="1.5" fill="#333"/>
<circle cx="612.4" cy="629.9" r="0.5" fill="#aaa"/>
<circle cx="624.7" cy="633.5" r="1.5" fill="#333"/>
<circle cx="624.4" cy="633.2" r="0.5" fill="#aaa"/>
<circle cx="636.7" cy="636.8" r="1.5" fill="#333"/>
<circle cx="636.4" cy="636.5" r="0.5" fill="#aaa"/>
<circle cx="648.7" cy="640.0" r="1.5" fill="#333"/>
<circle cx="648.4" cy="639.8" r="0.5" fill="#aaa"/>
<circle cx="660.7" cy="643.4" r="1.5" fill="#333"/>
<circle cx="660.4" cy="643.1" r="0.5" fill="#aaa"/>
<circle cx="668.2" cy="634.6" r="1.5" fill="#333"/><circle cx="667.9000000000001" cy="634.3000000000001" r="0.5" fill="#aaa"/>
<circle cx="668.2" cy="643.8" r="1.5" fill="#333"/><circle cx="667.9000000000001" cy="643.5" r="0.5" fill="#aaa"/>
<path d="M430.5,618.4 L472,628.6" stroke="#d4474b" stroke-width="0.65" stroke-dasharray="3,2" fill="none"/>
<path d="M468.1,629.4 L472,628.6 L468.9,626.1" stroke="#d4474b" stroke-width="0.65" fill="none"/>
<path d="M430.5,650 L449,654.5" stroke="#d4474b" stroke-width="0.65" stroke-dasharray="3,2" fill="none"/>
<path d="M445.1,655.3 L449,654.5 L445.9,652.0" stroke="#d4474b" stroke-width="0.65" fill="none"/>
<path d="M430.5,682.0 L450,686.4" stroke="#d4474b" stroke-width="0.65" stroke-dasharray="3,2" fill="none"/>
<path d="M446.1,687.3 L450,686.4 L446.9,683.9" stroke="#d4474b" stroke-width="0.65" fill="none"/>
<polygon points="451.0,652.5 479.0,626.0 490.9,629.3 463.4,655.4" fill="#fbfbfb" stroke="#333" stroke-width="0.6" stroke-linejoin="round"/>
<path d="M459.0,653.7 L485.6,628.5" stroke="#555" stroke-width="0.5"/>
<path d="M462.1,655.1 L489.7,629.0" stroke="#111" stroke-width="1.1"/>
<polygon points="456.6,649.5 458.7,647.5 463.1,648.6 461.0,650.6" fill="#d0d0d0" stroke="#444" stroke-width="0.45"/>
<polygon points="461.6,644.8 463.7,642.8 468.1,643.9 466.0,645.9" fill="#d0d0d0" stroke="#444" stroke-width="0.45"/>
<polygon points="466.7,640.0 468.8,638.0 473.1,639.2 471.0,641.1" fill="#d0d0d0" stroke="#444" stroke-width="0.45"/>
<polygon points="471.7,635.3 473.8,633.3 478.1,634.4 476.0,636.4" fill="#d0d0d0" stroke="#444" stroke-width="0.45"/>
<polygon points="476.7,630.5 478.8,628.5 483.1,629.7 481.0,631.7" fill="#d0d0d0" stroke="#444" stroke-width="0.45"/>
<polygon points="463.4,655.4 490.9,629.3 502.8,632.7 475.7,658.2" fill="#fbfbfb" stroke="#333" stroke-width="0.6" stroke-linejoin="round"/>
<path d="M471.3,656.6 L497.5,631.8" stroke="#555" stroke-width="0.5"/>
<path d="M474.5,658.0 L501.6,632.3" stroke="#111" stroke-width="1.1"/>
<polygon points="468.9,652.5 471.0,650.5 475.4,651.6 473.3,653.5" fill="#d0d0d0" stroke="#444" stroke-width="0.45"/>
<polygon points="473.9,647.8 475.9,645.8 480.3,646.9 478.2,648.9" fill="#d0d0d0" stroke="#444" stroke-width="0.45"/>
<polygon points="478.8,643.1 480.9,641.2 485.2,642.3 483.2,644.2" fill="#d0d0d0" stroke="#444" stroke-width="0.45"/>
<polygon points="483.7,638.4 485.8,636.5 490.1,637.6 488.1,639.6" fill="#d0d0d0" stroke="#444" stroke-width="0.45"/>
<polygon points="488.7,633.8 490.8,631.8 495.1,633.0 493.0,634.9" fill="#d0d0d0" stroke="#444" stroke-width="0.45"/>
<polygon points="475.7,658.2 502.8,632.7 514.8,636.0 488.1,661.1" fill="#fbfbfb" stroke="#333" stroke-width="0.6" stroke-linejoin="round"/>
<path d="M483.6,659.5 L509.4,635.2" stroke="#555" stroke-width="0.5"/>
<path d="M486.8,660.8 L513.6,635.7" stroke="#111" stroke-width="1.1"/>
<polygon points="481.2,655.4 483.2,653.5 487.6,654.5 485.6,656.5" fill="#d0d0d0" stroke="#444" stroke-width="0.45"/>
<polygon points="486.1,650.8 488.1,648.9 492.5,650.0 490.5,651.9" fill="#d0d0d0" stroke="#444" stroke-width="0.45"/>
<polygon points="490.9,646.2 493.0,644.3 497.3,645.4 495.3,647.3" fill="#d0d0d0" stroke="#444" stroke-width="0.45"/>
<polygon points="495.8,641.6 497.8,639.7 502.2,640.9 500.2,642.8" fill="#d0d0d0" stroke="#444" stroke-width="0.45"/>
<polygon points="500.7,637.0 502.7,635.1 507.0,636.3 505.0,638.2" fill="#d0d0d0" stroke="#444" stroke-width="0.45"/>
<polygon points="488.1,661.1 514.8,636.0 526.7,639.3 500.4,664.0" fill="#fbfbfb" stroke="#333" stroke-width="0.6" stroke-linejoin="round"/>
<path d="M496.0,662.4 L521.4,638.5" stroke="#555" stroke-width="0.5"/>
<path d="M499.2,663.7 L525.5,639.0" stroke="#111" stroke-width="1.1"/>
<polygon points="493.5,658.3 495.5,656.4 499.9,657.5 497.9,659.4" fill="#d0d0d0" stroke="#444" stroke-width="0.45"/>
<polygon points="498.3,653.8 500.3,651.9 504.7,653.0 502.7,654.9" fill="#d0d0d0" stroke="#444" stroke-width="0.45"/>
<polygon points="503.1,649.3 505.1,647.4 509.4,648.6 507.4,650.4" fill="#d0d0d0" stroke="#444" stroke-width="0.45"/>
<polygon points="507.9,644.8 509.9,642.9 514.2,644.1 512.2,645.9" fill="#d0d0d0" stroke="#444" stroke-width="0.45"/>
<polygon points="512.7,640.3 514.7,638.4 519.0,639.6 517.0,641.5" fill="#d0d0d0" stroke="#444" stroke-width="0.45"/>
<polygon points="500.4,664.0 526.7,639.3 538.6,642.7 512.8,666.9" fill="#fbfbfb" stroke="#333" stroke-width="0.6" stroke-linejoin="round"/>
<path d="M508.3,665.2 L533.3,641.8" stroke="#555" stroke-width="0.5"/>
<path d="M511.5,666.6 L537.4,642.3" stroke="#111" stroke-width="1.1"/>
<polygon points="505.8,661.3 507.7,659.4 512.2,660.5 510.2,662.3" fill="#d0d0d0" stroke="#444" stroke-width="0.45"/>
<polygon points="510.5,656.8 512.5,655.0 516.8,656.1 514.9,657.9" fill="#d0d0d0" stroke="#444" stroke-width="0.45"/>
<polygon points="515.2,652.4 517.2,650.6 521.5,651.7 519.6,653.5" fill="#d0d0d0" stroke="#444" stroke-width="0.45"/>
<polygon points="519.9,648.0 521.9,646.1 526.2,647.3 524.3,649.1" fill="#d0d0d0" stroke="#444" stroke-width="0.45"/>
<polygon points="524.6,643.6 526.6,641.7 530.9,642.9 529.0,644.7" fill="#d0d0d0" stroke="#444" stroke-width="0.45"/>
<polygon points="512.8,666.9 538.6,642.7 550.5,646.0 525.1,669.8" fill="#fbfbfb" stroke="#333" stroke-width="0.6" stroke-linejoin="round"/>
<path d="M520.7,668.1 L545.2,645.1" stroke="#555" stroke-width="0.5"/>
<path d="M523.9,669.5 L549.3,645.7" stroke="#111" stroke-width="1.1"/>
<polygon points="518.1,664.2 520.0,662.4 524.4,663.5 522.5,665.3" fill="#d0d0d0" stroke="#444" stroke-width="0.45"/>
<polygon points="522.7,659.9 524.6,658.0 529.0,659.1 527.1,660.9" fill="#d0d0d0" stroke="#444" stroke-width="0.45"/>
<polygon points="527.4,655.5 529.3,653.7 533.6,654.8 531.7,656.6" fill="#d0d0d0" stroke="#444" stroke-width="0.45"/>
<polygon points="532.0,651.2 533.9,649.4 538.2,650.5 536.3,652.3" fill="#d0d0d0" stroke="#444" stroke-width="0.45"/>
<polygon points="536.6,646.8 538.6,645.0 542.9,646.2 540.9,648.0" fill="#d0d0d0" stroke="#444" stroke-width="0.45"/>
<polygon points="525.1,669.8 550.5,646.0 562.4,649.3 537.5,672.6" fill="#fbfbfb" stroke="#333" stroke-width="0.6" stroke-linejoin="round"/>
<path d="M533.0,671.0 L557.1,648.5" stroke="#555" stroke-width="0.5"/>
<path d="M536.2,672.3 L561.2,649.0" stroke="#111" stroke-width="1.1"/>
<polygon points="530.4,667.1 532.3,665.4 536.7,666.4 534.8,668.2" fill="#d0d0d0" stroke="#444" stroke-width="0.45"/>
<polygon points="534.9,662.9 536.8,661.1 541.2,662.2 539.3,664.0" fill="#d0d0d0" stroke="#444" stroke-width="0.45"/>
<polygon points="539.5,658.6 541.4,656.8 545.7,658.0 543.9,659.7" fill="#d0d0d0" stroke="#444" stroke-width="0.45"/>
<polygon points="544.0,654.3 545.9,652.6 550.3,653.7 548.4,655.5" fill="#d0d0d0" stroke="#444" stroke-width="0.45"/>
<polygon points="548.6,650.1 550.5,648.3 554.8,649.5 552.9,651.3" fill="#d0d0d0" stroke="#444" stroke-width="0.45"/>
<polygon points="537.5,672.6 562.4,649.3 574.3,652.7 549.8,675.5" fill="#fbfbfb" stroke="#333" stroke-width="0.6" stroke-linejoin="round"/>
<path d="M545.4,673.9 L569.1,651.8" stroke="#555" stroke-width="0.5"/>
<path d="M548.6,675.2 L573.1,652.3" stroke="#111" stroke-width="1.1"/>
<polygon points="542.7,670.1 544.5,668.3 548.9,669.4 547.1,671.1" fill="#d0d0d0" stroke="#444" stroke-width="0.45"/>
<polygon points="547.1,665.9 549.0,664.1 553.4,665.2 551.5,667.0" fill="#d0d0d0" stroke="#444" stroke-width="0.45"/>
<polygon points="551.6,661.7 553.5,660.0 557.9,661.1 556.0,662.8" fill="#d0d0d0" stroke="#444" stroke-width="0.45"/>
<polygon points="556.1,657.5 558.0,655.8 562.3,656.9 560.4,658.7" fill="#d0d0d0" stroke="#444" stroke-width="0.45"/>
<polygon points="560.6,653.3 562.5,651.6 566.8,652.8 564.9,654.5" fill="#d0d0d0" stroke="#444" stroke-width="0.45"/>
<polygon points="549.8,675.5 574.3,652.7 586.2,656.0 562.2,678.4" fill="#fbfbfb" stroke="#333" stroke-width="0.6" stroke-linejoin="round"/>
<path d="M557.7,676.8 L581.0,655.1" stroke="#555" stroke-width="0.5"/>
<path d="M560.9,678.1 L585.1,655.7" stroke="#111" stroke-width="1.1"/>
<polygon points="555.0,673.0 556.8,671.3 561.2,672.4 559.4,674.1" fill="#d0d0d0" stroke="#444" stroke-width="0.45"/>
<polygon points="559.4,668.9 561.2,667.2 565.6,668.3 563.8,670.0" fill="#d0d0d0" stroke="#444" stroke-width="0.45"/>
<polygon points="563.8,664.8 565.6,663.1 570.0,664.2 568.1,665.9" fill="#d0d0d0" stroke="#444" stroke-width="0.45"/>
<polygon points="568.2,660.7 570.0,659.0 574.3,660.2 572.5,661.9" fill="#d0d0d0" stroke="#444" stroke-width="0.45"/>
<polygon points="572.6,656.6 574.4,654.9 578.7,656.1 576.9,657.8" fill="#d0d0d0" stroke="#444" stroke-width="0.45"/>
<polygon points="562.2,678.4 586.2,656.0 598.2,659.3 574.5,681.2" fill="#fbfbfb" stroke="#333" stroke-width="0.6" stroke-linejoin="round"/>
<path d="M570.0,679.7 L592.9,658.4" stroke="#555" stroke-width="0.5"/>
<path d="M573.3,681.0 L597.0,659.0" stroke="#111" stroke-width="1.1"/>
<polygon points="567.2,675.9 569.1,674.3 573.5,675.3 571.7,677.0" fill="#d0d0d0" stroke="#444" stroke-width="0.45"/>
<polygon points="571.6,671.9 573.4,670.2 577.8,671.3 576.0,673.0" fill="#d0d0d0" stroke="#444" stroke-width="0.45"/>
<polygon points="575.9,667.9 577.7,666.2 582.1,667.4 580.3,669.0" fill="#d0d0d0" stroke="#444" stroke-width="0.45"/>
<polygon points="580.2,663.9 582.0,662.2 586.4,663.4 584.6,665.0" fill="#d0d0d0" stroke="#444" stroke-width="0.45"/>
<polygon points="584.6,659.9 586.4,658.2 590.7,659.4 588.9,661.1" fill="#d0d0d0" stroke="#444" stroke-width="0.45"/>
<polygon points="574.5,681.2 598.2,659.3 610.1,662.7 586.9,684.1" fill="#fbfbfb" stroke="#333" stroke-width="0.6" stroke-linejoin="round"/>
<path d="M582.4,682.5 L604.8,661.8" stroke="#555" stroke-width="0.5"/>
<path d="M585.6,683.8 L608.9,662.3" stroke="#111" stroke-width="1.1"/>
<polygon points="579.5,678.9 581.3,677.2 585.7,678.3 584.0,679.9" fill="#d0d0d0" stroke="#444" stroke-width="0.45"/>
<polygon points="583.8,674.9 585.6,673.3 589.9,674.4 588.2,676.0" fill="#d0d0d0" stroke="#444" stroke-width="0.45"/>
<polygon points="588.0,671.0 589.8,669.4 594.2,670.5 592.4,672.1" fill="#d0d0d0" stroke="#444" stroke-width="0.45"/>
<polygon points="592.3,667.1 594.1,665.4 598.4,666.6 596.6,668.2" fill="#d0d0d0" stroke="#444" stroke-width="0.45"/>
<polygon points="596.5,663.1 598.3,661.5 602.6,662.7 600.8,664.3" fill="#d0d0d0" stroke="#444" stroke-width="0.45"/>
<polygon points="586.9,684.1 610.1,662.7 622.0,666.0 599.2,687.0" fill="#fbfbfb" stroke="#333" stroke-width="0.6" stroke-linejoin="round"/>
<path d="M594.7,685.4 L616.8,665.1" stroke="#555" stroke-width="0.5"/>
<path d="M598.0,686.7 L620.8,665.7" stroke="#111" stroke-width="1.1"/>
<polygon points="591.8,681.8 593.6,680.2 598.0,681.3 596.3,682.9" fill="#d0d0d0" stroke="#444" stroke-width="0.45"/>
<polygon points="596.0,678.0 597.7,676.4 602.1,677.5 600.4,679.0" fill="#d0d0d0" stroke="#444" stroke-width="0.45"/>
<polygon points="600.2,674.1 601.9,672.5 606.3,673.6 604.5,675.2" fill="#d0d0d0" stroke="#444" stroke-width="0.45"/>
<polygon points="604.3,670.3 606.1,668.7 610.4,669.8 608.7,671.4" fill="#d0d0d0" stroke="#444" stroke-width="0.45"/>
<polygon points="608.5,666.4 610.3,664.8 614.6,666.0 612.8,667.6" fill="#d0d0d0" stroke="#444" stroke-width="0.45"/>
<polygon points="451.0,652.5 463.4,655.4 463.8,692.8 451.4,689.8" fill="#dedede" stroke="#222" stroke-width="0.6"/>
<polygon points="451.0,653.5 452.1,653.8 452.5,690.1 451.4,689.8" fill="#2a2a2a"/>
<polygon points="457.3,656.5 458.2,656.7 458.6,690.5 457.7,690.3" fill="#3a3a3a"/>
<polygon points="462.4,655.7 463.4,655.9 463.8,692.8 462.8,692.6" fill="#1e1e1e"/>
<polygon points="452.9,653.7 456.8,654.7 456.9,659.4 452.9,658.5" fill="#f4f4f4" stroke="#444" stroke-width="0.4"/>
<polygon points="458.7,655.1 461.6,655.8 461.7,662.6 458.7,661.9" fill="#f4f4f4" stroke="#444" stroke-width="0.4"/>
<ellipse cx="455.0" cy="665.2" rx="1.7" ry="2.1" fill="#1a1a1a"/>
<circle cx="455.2" cy="665.2" r="0.7" fill="#bbb"/>
<ellipse cx="455.1" cy="671.9" rx="1.7" ry="2.1" fill="#1a1a1a"/>
<circle cx="455.3" cy="671.9" r="0.7" fill="#bbb"/>
<ellipse cx="455.2" cy="678.5" rx="1.7" ry="2.1" fill="#1a1a1a"/>
<circle cx="455.4" cy="678.5" r="0.7" fill="#bbb"/>
<ellipse cx="455.2" cy="685.2" rx="1.7" ry="2.1" fill="#1a1a1a"/>
<circle cx="455.4" cy="685.2" r="0.7" fill="#bbb"/>
<ellipse cx="460.3" cy="668.0" rx="1.3" ry="2.1" fill="#1a1a1a"/>
<circle cx="460.5" cy="668.0" r="0.7" fill="#bbb"/>
<ellipse cx="460.4" cy="674.6" rx="1.3" ry="2.1" fill="#1a1a1a"/>
<circle cx="460.6" cy="674.6" r="0.7" fill="#bbb"/>
<ellipse cx="460.4" cy="681.3" rx="1.3" ry="2.1" fill="#1a1a1a"/>
<circle cx="460.6" cy="681.3" r="0.7" fill="#bbb"/>
<ellipse cx="460.5" cy="688.0" rx="1.3" ry="2.1" fill="#1a1a1a"/>
<circle cx="460.7" cy="688.0" r="0.7" fill="#bbb"/>
<rect x="457.9" y="664.7" width="1.6" height="0.9" fill="#d33"/>
<rect x="458.0" y="673.3" width="1.4" height="0.8" fill="#d33" opacity="0.8"/>
<polygon points="463.4,655.4 475.7,658.2 476.2,695.8 463.8,692.8" fill="#dedede" stroke="#222" stroke-width="0.6"/>
<polygon points="463.4,656.4 464.5,656.6 464.9,693.1 463.8,692.8" fill="#2a2a2a"/>
<polygon points="469.7,659.4 470.5,659.6 471.0,693.6 470.1,693.3" fill="#3a3a3a"/>
<polygon points="474.7,658.5 475.7,658.8 476.2,695.8 475.2,695.6" fill="#1e1e1e"/>
<polygon points="465.2,656.6 469.2,657.5 469.2,662.3 465.3,661.4" fill="#f4f4f4" stroke="#444" stroke-width="0.4"/>
<polygon points="471.0,658.0 474.0,658.7 474.1,665.5 471.1,664.8" fill="#f4f4f4" stroke="#444" stroke-width="0.4"/>
<ellipse cx="467.4" cy="668.1" rx="1.7" ry="2.1" fill="#1a1a1a"/>
<circle cx="467.6" cy="668.1" r="0.7" fill="#bbb"/>
<ellipse cx="467.5" cy="674.8" rx="1.7" ry="2.1" fill="#1a1a1a"/>
<circle cx="467.7" cy="674.8" r="0.7" fill="#bbb"/>
<ellipse cx="467.5" cy="681.5" rx="1.7" ry="2.1" fill="#1a1a1a"/>
<circle cx="467.7" cy="681.5" r="0.7" fill="#bbb"/>
<ellipse cx="467.6" cy="688.2" rx="1.7" ry="2.1" fill="#1a1a1a"/>
<circle cx="467.8" cy="688.2" r="0.7" fill="#bbb"/>
<ellipse cx="472.7" cy="670.9" rx="1.3" ry="2.1" fill="#1a1a1a"/>
<circle cx="472.9" cy="670.9" r="0.7" fill="#bbb"/>
<ellipse cx="472.7" cy="677.6" rx="1.3" ry="2.1" fill="#1a1a1a"/>
<circle cx="472.9" cy="677.6" r="0.7" fill="#bbb"/>
<ellipse cx="472.8" cy="684.3" rx="1.3" ry="2.1" fill="#1a1a1a"/>
<circle cx="473.0" cy="684.3" r="0.7" fill="#bbb"/>
<ellipse cx="472.9" cy="691.0" rx="1.3" ry="2.1" fill="#1a1a1a"/>
<circle cx="473.1" cy="691.0" r="0.7" fill="#bbb"/>
<rect x="470.3" y="668.6" width="1.6" height="0.9" fill="#d33"/>
<rect x="470.4" y="677.2" width="1.4" height="0.8" fill="#d33" opacity="0.8"/>
<polygon points="475.7,658.2 488.1,661.1 488.5,698.8 476.2,695.8" fill="#dedede" stroke="#222" stroke-width="0.6"/>
<polygon points="475.7,659.3 476.8,659.5 477.3,696.1 476.2,695.8" fill="#2a2a2a"/>
<polygon points="482.0,662.3 482.9,662.5 483.3,696.6 482.5,696.4" fill="#3a3a3a"/>
<polygon points="487.1,661.4 488.1,661.6 488.5,698.8 487.6,698.6" fill="#1e1e1e"/>
<polygon points="477.6,659.5 481.5,660.4 481.6,665.2 477.6,664.3" fill="#f4f4f4" stroke="#444" stroke-width="0.4"/>
<polygon points="483.4,660.8 486.3,661.5 486.4,668.4 483.5,667.7" fill="#f4f4f4" stroke="#444" stroke-width="0.4"/>
<ellipse cx="479.7" cy="671.1" rx="1.7" ry="2.1" fill="#1a1a1a"/>
<circle cx="479.9" cy="671.1" r="0.7" fill="#bbb"/>
<ellipse cx="479.8" cy="677.8" rx="1.7" ry="2.1" fill="#1a1a1a"/>
<circle cx="480.0" cy="677.8" r="0.7" fill="#bbb"/>
<ellipse cx="479.9" cy="684.5" rx="1.7" ry="2.1" fill="#1a1a1a"/>
<circle cx="480.1" cy="684.5" r="0.7" fill="#bbb"/>
<ellipse cx="480.0" cy="691.2" rx="1.7" ry="2.1" fill="#1a1a1a"/>
<circle cx="480.2" cy="691.2" r="0.7" fill="#bbb"/>
<ellipse cx="485.0" cy="673.8" rx="1.3" ry="2.1" fill="#1a1a1a"/>
<circle cx="485.2" cy="673.8" r="0.7" fill="#bbb"/>
<ellipse cx="485.1" cy="680.5" rx="1.3" ry="2.1" fill="#1a1a1a"/>
<circle cx="485.3" cy="680.5" r="0.7" fill="#bbb"/>
<ellipse cx="485.2" cy="687.3" rx="1.3" ry="2.1" fill="#1a1a1a"/>
<circle cx="485.4" cy="687.3" r="0.7" fill="#bbb"/>
<ellipse cx="485.3" cy="694.0" rx="1.3" ry="2.1" fill="#1a1a1a"/>
<circle cx="485.5" cy="694.0" r="0.7" fill="#bbb"/>
<rect x="482.7" y="672.6" width="1.6" height="0.9" fill="#d33"/>
<rect x="482.7" y="679.2" width="1.4" height="0.8" fill="#d33" opacity="0.8"/>
<polygon points="488.1,661.1 500.4,664.0 500.9,701.9 488.5,698.8" fill="#dedede" stroke="#222" stroke-width="0.6"/>
<polygon points="488.1,662.1 489.2,662.4 489.7,699.1 488.5,698.8" fill="#2a2a2a"/>
<polygon points="494.4,665.1 495.2,665.3 495.7,699.6 494.9,699.4" fill="#3a3a3a"/>
<polygon points="499.4,664.3 500.4,664.5 500.9,701.9 499.9,701.6" fill="#1e1e1e"/>
<polygon points="489.9,662.4 493.9,663.3 493.9,668.1 490.0,667.2" fill="#f4f4f4" stroke="#444" stroke-width="0.4"/>
<polygon points="495.7,663.7 498.7,664.4 498.8,671.3 495.8,670.6" fill="#f4f4f4" stroke="#444" stroke-width="0.4"/>
<ellipse cx="492.1" cy="674.0" rx="1.7" ry="2.1" fill="#1a1a1a"/>
<circle cx="492.3" cy="674.0" r="0.7" fill="#bbb"/>
<ellipse cx="492.2" cy="680.7" rx="1.7" ry="2.1" fill="#1a1a1a"/>
<circle cx="492.4" cy="680.7" r="0.7" fill="#bbb"/>
<ellipse cx="492.3" cy="687.4" rx="1.7" ry="2.1" fill="#1a1a1a"/>
<circle cx="492.5" cy="687.4" r="0.7" fill="#bbb"/>
<ellipse cx="492.4" cy="694.2" rx="1.7" ry="2.1" fill="#1a1a1a"/>
<circle cx="492.6" cy="694.2" r="0.7" fill="#bbb"/>
<ellipse cx="497.4" cy="676.7" rx="1.3" ry="2.1" fill="#1a1a1a"/>
<circle cx="497.6" cy="676.7" r="0.7" fill="#bbb"/>
<ellipse cx="497.5" cy="683.5" rx="1.3" ry="2.1" fill="#1a1a1a"/>
<circle cx="497.7" cy="683.5" r="0.7" fill="#bbb"/>
<ellipse cx="497.6" cy="690.2" rx="1.3" ry="2.1" fill="#1a1a1a"/>
<circle cx="497.8" cy="690.2" r="0.7" fill="#bbb"/>
<ellipse cx="497.7" cy="697.0" rx="1.3" ry="2.1" fill="#1a1a1a"/>
<circle cx="497.9" cy="697.0" r="0.7" fill="#bbb"/>
<rect x="495.0" y="673.4" width="1.6" height="0.9" fill="#d33"/>
<rect x="495.1" y="683.1" width="1.4" height="0.8" fill="#d33" opacity="0.8"/>
<polygon points="500.4,664.0 512.8,666.9 513.3,704.9 500.9,701.9" fill="#dedede" stroke="#222" stroke-width="0.6"/>
<polygon points="500.4,665.0 501.5,665.3 502.0,702.1 500.9,701.9" fill="#2a2a2a"/>
<polygon points="506.7,668.0 507.6,668.2 508.1,702.6 507.2,702.4" fill="#3a3a3a"/>
<polygon points="511.8,667.2 512.8,667.4 513.3,704.9 512.3,704.6" fill="#1e1e1e"/>
<polygon points="502.3,665.3 506.2,666.2 506.3,671.0 502.3,670.1" fill="#f4f4f4" stroke="#444" stroke-width="0.4"/>
<polygon points="508.1,666.6 511.0,667.3 511.1,674.2 508.2,673.5" fill="#f4f4f4" stroke="#444" stroke-width="0.4"/>
<ellipse cx="504.5" cy="676.9" rx="1.7" ry="2.1" fill="#1a1a1a"/>
<circle cx="504.7" cy="676.9" r="0.7" fill="#bbb"/>
<ellipse cx="504.6" cy="683.7" rx="1.7" ry="2.1" fill="#1a1a1a"/>
<circle cx="504.8" cy="683.7" r="0.7" fill="#bbb"/>
<ellipse cx="504.7" cy="690.4" rx="1.7" ry="2.1" fill="#1a1a1a"/>
<circle cx="504.9" cy="690.4" r="0.7" fill="#bbb"/>
<ellipse cx="504.8" cy="697.2" rx="1.7" ry="2.1" fill="#1a1a1a"/>
<circle cx="505.0" cy="697.2" r="0.7" fill="#bbb"/>
<ellipse cx="509.7" cy="679.7" rx="1.3" ry="2.1" fill="#1a1a1a"/>
<circle cx="509.9" cy="679.7" r="0.7" fill="#bbb"/>
<ellipse cx="509.8" cy="686.4" rx="1.3" ry="2.1" fill="#1a1a1a"/>
<circle cx="510.0" cy="686.4" r="0.7" fill="#bbb"/>
<ellipse cx="509.9" cy="693.2" rx="1.3" ry="2.1" fill="#1a1a1a"/>
<circle cx="510.1" cy="693.2" r="0.7" fill="#bbb"/>
<ellipse cx="510.0" cy="700.0" rx="1.3" ry="2.1" fill="#1a1a1a"/>
<circle cx="510.2" cy="700.0" r="0.7" fill="#bbb"/>
<rect x="507.4" y="677.4" width="1.6" height="0.9" fill="#d33"/>
<rect x="507.5" y="685.1" width="1.4" height="0.8" fill="#d33" opacity="0.8"/>
<polygon points="512.8,666.9 525.1,669.8 525.7,707.9 513.3,704.9" fill="#dedede" stroke="#222" stroke-width="0.6"/>
<polygon points="512.8,667.9 513.9,668.2 514.4,705.2 513.3,704.9" fill="#2a2a2a"/>
<polygon points="519.1,670.9 520.0,671.1 520.5,705.6 519.6,705.4" fill="#3a3a3a"/>
<polygon points="524.1,670.0 525.1,670.3 525.7,707.9 524.7,707.7" fill="#1e1e1e"/>
<polygon points="514.6,668.1 518.6,669.0 518.6,673.9 514.7,673.0" fill="#f4f4f4" stroke="#444" stroke-width="0.4"/>
<polygon points="520.4,669.5 523.4,670.2 523.5,677.1 520.5,676.4" fill="#f4f4f4" stroke="#444" stroke-width="0.4"/>
<ellipse cx="516.8" cy="679.8" rx="1.7" ry="2.1" fill="#1a1a1a"/>
<circle cx="517.0" cy="679.8" r="0.7" fill="#bbb"/>
<ellipse cx="516.9" cy="686.6" rx="1.7" ry="2.1" fill="#1a1a1a"/>
<circle cx="517.1" cy="686.6" r="0.7" fill="#bbb"/>
<ellipse cx="517.0" cy="693.4" rx="1.7" ry="2.1" fill="#1a1a1a"/>
<circle cx="517.2" cy="693.4" r="0.7" fill="#bbb"/>
<ellipse cx="517.1" cy="700.2" rx="1.7" ry="2.1" fill="#1a1a1a"/>
<circle cx="517.3" cy="700.2" r="0.7" fill="#bbb"/>
<ellipse cx="522.1" cy="682.6" rx="1.3" ry="2.1" fill="#1a1a1a"/>
<circle cx="522.3" cy="682.6" r="0.7" fill="#bbb"/>
<ellipse cx="522.2" cy="689.4" rx="1.3" ry="2.1" fill="#1a1a1a"/>
<circle cx="522.4" cy="689.4" r="0.7" fill="#bbb"/>
<ellipse cx="522.3" cy="696.2" rx="1.3" ry="2.1" fill="#1a1a1a"/>
<circle cx="522.5" cy="696.2" r="0.7" fill="#bbb"/>
<ellipse cx="522.4" cy="703.0" rx="1.3" ry="2.1" fill="#1a1a1a"/>
<circle cx="522.6" cy="703.0" r="0.7" fill="#bbb"/>
<rect x="519.7" y="681.3" width="1.6" height="0.9" fill="#d33"/>
<rect x="519.9" y="689.0" width="1.4" height="0.8" fill="#d33" opacity="0.8"/>
<polygon points="525.1,669.8 537.5,672.6 538.1,710.9 525.7,707.9" fill="#dedede" stroke="#222" stroke-width="0.6"/>
<polygon points="525.1,670.8 526.2,671.0 526.8,708.2 525.7,707.9" fill="#2a2a2a"/>
<polygon points="531.4,673.8 532.3,674.0 532.9,708.6 532.0,708.4" fill="#3a3a3a"/>
<polygon points="536.5,672.9 537.5,673.1 538.1,710.9 537.1,710.7" fill="#1e1e1e"/>
<polygon points="527.0,671.0 530.9,671.9 531.0,676.8 527.0,675.9" fill="#f4f4f4" stroke="#444" stroke-width="0.4"/>
<polygon points="532.8,672.4 535.7,673.0 535.8,680.0 532.9,679.3" fill="#f4f4f4" stroke="#444" stroke-width="0.4"/>
<ellipse cx="529.2" cy="682.7" rx="1.7" ry="2.1" fill="#1a1a1a"/>
<circle cx="529.4" cy="682.7" r="0.7" fill="#bbb"/>
<ellipse cx="529.3" cy="689.5" rx="1.7" ry="2.1" fill="#1a1a1a"/>
<circle cx="529.5" cy="689.5" r="0.7" fill="#bbb"/>
<ellipse cx="529.4" cy="696.4" rx="1.7" ry="2.1" fill="#1a1a1a"/>
<circle cx="529.6" cy="696.4" r="0.7" fill="#bbb"/>
<ellipse cx="529.5" cy="703.2" rx="1.7" ry="2.1" fill="#1a1a1a"/>
<circle cx="529.7" cy="703.2" r="0.7" fill="#bbb"/>
<ellipse cx="534.5" cy="685.5" rx="1.3" ry="2.1" fill="#1a1a1a"/>
<circle cx="534.7" cy="685.5" r="0.7" fill="#bbb"/>
<ellipse cx="534.6" cy="692.3" rx="1.3" ry="2.1" fill="#1a1a1a"/>
<circle cx="534.8" cy="692.3" r="0.7" fill="#bbb"/>
<ellipse cx="534.7" cy="699.2" rx="1.3" ry="2.1" fill="#1a1a1a"/>
<circle cx="534.9" cy="699.2" r="0.7" fill="#bbb"/>
<ellipse cx="534.8" cy="706.0" rx="1.3" ry="2.1" fill="#1a1a1a"/>
<circle cx="535.0" cy="706.0" r="0.7" fill="#bbb"/>
<rect x="532.1" y="682.2" width="1.6" height="0.9" fill="#d33"/>
<rect x="532.2" y="691.0" width="1.4" height="0.8" fill="#d33" opacity="0.8"/>
<polygon points="537.5,672.6 549.8,675.5 550.5,713.9 538.1,710.9" fill="#dedede" stroke="#222" stroke-width="0.6"/>
<polygon points="537.5,673.7 538.6,673.9 539.2,711.2 538.1,710.9" fill="#2a2a2a"/>
<polygon points="543.8,676.7 544.7,676.9 545.2,711.6 544.4,711.4" fill="#3a3a3a"/>
<polygon points="548.8,675.8 549.8,676.0 550.5,713.9 549.5,713.7" fill="#1e1e1e"/>
<polygon points="539.3,673.9 543.3,674.8 543.4,679.7 539.4,678.8" fill="#f4f4f4" stroke="#444" stroke-width="0.4"/>
<polygon points="545.1,675.2 548.1,675.9 548.2,682.9 545.2,682.2" fill="#f4f4f4" stroke="#444" stroke-width="0.4"/>
<ellipse cx="541.5" cy="685.7" rx="1.7" ry="2.1" fill="#1a1a1a"/>
<circle cx="541.7" cy="685.7" r="0.7" fill="#bbb"/>
<ellipse cx="541.7" cy="692.5" rx="1.7" ry="2.1" fill="#1a1a1a"/>
<circle cx="541.9" cy="692.5" r="0.7" fill="#bbb"/>
<ellipse cx="541.8" cy="699.3" rx="1.7" ry="2.1" fill="#1a1a1a"/>
<circle cx="542.0" cy="699.3" r="0.7" fill="#bbb"/>
<ellipse cx="541.9" cy="706.2" rx="1.7" ry="2.1" fill="#1a1a1a"/>
<circle cx="542.1" cy="706.2" r="0.7" fill="#bbb"/>
<ellipse cx="546.8" cy="688.5" rx="1.3" ry="2.1" fill="#1a1a1a"/>
<circle cx="547.0" cy="688.5" r="0.7" fill="#bbb"/>
<ellipse cx="546.9" cy="695.3" rx="1.3" ry="2.1" fill="#1a1a1a"/>
<circle cx="547.1" cy="695.3" r="0.7" fill="#bbb"/>
<ellipse cx="547.1" cy="702.1" rx="1.3" ry="2.1" fill="#1a1a1a"/>
<circle cx="547.3" cy="702.1" r="0.7" fill="#bbb"/>
<ellipse cx="547.2" cy="709.0" rx="1.3" ry="2.1" fill="#1a1a1a"/>
<circle cx="547.4" cy="709.0" r="0.7" fill="#bbb"/>
<rect x="544.4" y="686.1" width="1.6" height="0.9" fill="#d33"/>
<rect x="544.6" y="694.9" width="1.4" height="0.8" fill="#d33" opacity="0.8"/>
<polygon points="549.8,675.5 562.2,678.4 562.9,717.0 550.5,713.9" fill="#dedede" stroke="#222" stroke-width="0.6"/>
<polygon points="549.8,676.5 550.9,676.8 551.6,714.2 550.5,713.9" fill="#2a2a2a"/>
<polygon points="556.1,679.6 557.0,679.8 557.6,714.6 556.8,714.4" fill="#3a3a3a"/>
<polygon points="561.2,678.7 562.2,678.9 562.9,717.0 561.9,716.7" fill="#1e1e1e"/>
<polygon points="551.7,676.8 555.6,677.7 555.7,682.6 551.8,681.6" fill="#f4f4f4" stroke="#444" stroke-width="0.4"/>
<polygon points="557.5,678.1 560.4,678.8 560.6,685.8 557.6,685.1" fill="#f4f4f4" stroke="#444" stroke-width="0.4"/>
<ellipse cx="553.9" cy="688.6" rx="1.7" ry="2.1" fill="#1a1a1a"/>
<circle cx="554.1" cy="688.6" r="0.7" fill="#bbb"/>
<ellipse cx="554.0" cy="695.4" rx="1.7" ry="2.1" fill="#1a1a1a"/>
<circle cx="554.2" cy="695.4" r="0.7" fill="#bbb"/>
<ellipse cx="554.1" cy="702.3" rx="1.7" ry="2.1" fill="#1a1a1a"/>
<circle cx="554.3" cy="702.3" r="0.7" fill="#bbb"/>
<ellipse cx="554.3" cy="709.2" rx="1.7" ry="2.1" fill="#1a1a1a"/>
<circle cx="554.5" cy="709.2" r="0.7" fill="#bbb"/>
<ellipse cx="559.2" cy="691.4" rx="1.3" ry="2.1" fill="#1a1a1a"/>
<circle cx="559.4" cy="691.4" r="0.7" fill="#bbb"/>
<ellipse cx="559.3" cy="698.3" rx="1.3" ry="2.1" fill="#1a1a1a"/>
<circle cx="559.5" cy="698.3" r="0.7" fill="#bbb"/>
<ellipse cx="559.4" cy="705.1" rx="1.3" ry="2.1" fill="#1a1a1a"/>
<circle cx="559.6" cy="705.1" r="0.7" fill="#bbb"/>
<ellipse cx="559.6" cy="712.0" rx="1.3" ry="2.1" fill="#1a1a1a"/>
<circle cx="559.8" cy="712.0" r="0.7" fill="#bbb"/>
<rect x="556.8" y="690.1" width="1.6" height="0.9" fill="#d33"/>
<rect x="556.9" y="696.9" width="1.4" height="0.8" fill="#d33" opacity="0.8"/>
<polygon points="562.2,678.4 574.5,681.2 575.2,720.0 562.9,717.0" fill="#dedede" stroke="#222" stroke-width="0.6"/>
<polygon points="562.2,679.4 563.3,679.7 564.0,717.2 562.9,717.0" fill="#2a2a2a"/>
<polygon points="568.5,682.5 569.4,682.7 570.0,717.7 569.1,717.4" fill="#3a3a3a"/>
<polygon points="573.5,681.5 574.5,681.8 575.2,720.0 574.2,719.7" fill="#1e1e1e"/>
<polygon points="564.0,679.6 568.0,680.6 568.1,685.5 564.1,684.5" fill="#f4f4f4" stroke="#444" stroke-width="0.4"/>
<polygon points="569.8,681.0 572.8,681.7 572.9,688.7 570.0,688.0" fill="#f4f4f4" stroke="#444" stroke-width="0.4"/>
<ellipse cx="566.3" cy="691.5" rx="1.7" ry="2.1" fill="#1a1a1a"/>
<circle cx="566.5" cy="691.5" r="0.7" fill="#bbb"/>
<ellipse cx="566.4" cy="698.4" rx="1.7" ry="2.1" fill="#1a1a1a"/>
<circle cx="566.6" cy="698.4" r="0.7" fill="#bbb"/>
<ellipse cx="566.5" cy="705.3" rx="1.7" ry="2.1" fill="#1a1a1a"/>
<circle cx="566.7" cy="705.3" r="0.7" fill="#bbb"/>
<ellipse cx="566.6" cy="712.2" rx="1.7" ry="2.1" fill="#1a1a1a"/>
<circle cx="566.8" cy="712.2" r="0.7" fill="#bbb"/>
<ellipse cx="571.5" cy="694.3" rx="1.3" ry="2.1" fill="#1a1a1a"/>
<circle cx="571.7" cy="694.3" r="0.7" fill="#bbb"/>
<ellipse cx="571.7" cy="701.2" rx="1.3" ry="2.1" fill="#1a1a1a"/>
<circle cx="571.9" cy="701.2" r="0.7" fill="#bbb"/>
<ellipse cx="571.8" cy="708.1" rx="1.3" ry="2.1" fill="#1a1a1a"/>
<circle cx="572.0" cy="708.1" r="0.7" fill="#bbb"/>
<ellipse cx="571.9" cy="715.0" rx="1.3" ry="2.1" fill="#1a1a1a"/>
<circle cx="572.1" cy="715.0" r="0.7" fill="#bbb"/>
<rect x="569.1" y="690.9" width="1.6" height="0.9" fill="#d33"/>
<rect x="569.3" y="700.8" width="1.4" height="0.8" fill="#d33" opacity="0.8"/>
<polygon points="574.5,681.2 586.9,684.1 587.6,723.0 575.2,720.0" fill="#dedede" stroke="#222" stroke-width="0.6"/>
<polygon points="574.5,682.3 575.6,682.6 576.3,720.2 575.2,720.0" fill="#2a2a2a"/>
<polygon points="580.8,685.3 581.7,685.5 582.4,720.7 581.5,720.5" fill="#3a3a3a"/>
<polygon points="585.9,684.4 586.9,684.7 587.6,723.0 586.6,722.7" fill="#1e1e1e"/>
<polygon points="576.4,682.5 580.3,683.4 580.4,688.4 576.5,687.4" fill="#f4f4f4" stroke="#444" stroke-width="0.4"/>
<polygon points="582.2,683.9 585.1,684.6 585.3,691.6 582.3,690.9" fill="#f4f4f4" stroke="#444" stroke-width="0.4"/>
<ellipse cx="578.6" cy="694.4" rx="1.7" ry="2.1" fill="#1a1a1a"/>
<circle cx="578.8" cy="694.4" r="0.7" fill="#bbb"/>
<ellipse cx="578.8" cy="701.3" rx="1.7" ry="2.1" fill="#1a1a1a"/>
<circle cx="579.0" cy="701.3" r="0.7" fill="#bbb"/>
<ellipse cx="578.9" cy="708.2" rx="1.7" ry="2.1" fill="#1a1a1a"/>
<circle cx="579.1" cy="708.2" r="0.7" fill="#bbb"/>
<ellipse cx="579.0" cy="715.2" rx="1.7" ry="2.1" fill="#1a1a1a"/>
<circle cx="579.2" cy="715.2" r="0.7" fill="#bbb"/>
<ellipse cx="583.9" cy="697.2" rx="1.3" ry="2.1" fill="#1a1a1a"/>
<circle cx="584.1" cy="697.2" r="0.7" fill="#bbb"/>
<ellipse cx="584.0" cy="704.2" rx="1.3" ry="2.1" fill="#1a1a1a"/>
<circle cx="584.2" cy="704.2" r="0.7" fill="#bbb"/>
<ellipse cx="584.2" cy="711.1" rx="1.3" ry="2.1" fill="#1a1a1a"/>
<circle cx="584.4" cy="711.1" r="0.7" fill="#bbb"/>
<ellipse cx="584.3" cy="718.0" rx="1.3" ry="2.1" fill="#1a1a1a"/>
<circle cx="584.5" cy="718.0" r="0.7" fill="#bbb"/>
<rect x="581.5" y="694.9" width="1.6" height="0.9" fill="#d33"/>
<rect x="581.7" y="702.8" width="1.4" height="0.8" fill="#d33" opacity="0.8"/>
<polygon points="586.9,684.1 599.2,687.0 600.0,726.0 587.6,723.0" fill="#dedede" stroke="#222" stroke-width="0.6"/>
<polygon points="586.9,685.2 588.0,685.4 588.7,723.3 587.6,723.0" fill="#2a2a2a"/>
<polygon points="593.2,688.2 594.1,688.4 594.8,723.7 593.9,723.5" fill="#3a3a3a"/>
<polygon points="598.2,687.3 599.2,687.5 600.0,726.0 599.0,725.8" fill="#1e1e1e"/>
<polygon points="588.7,685.4 592.7,686.3 592.8,691.3 588.8,690.3" fill="#f4f4f4" stroke="#444" stroke-width="0.4"/>
<polygon points="594.5,686.7 597.5,687.4 597.6,694.5 594.7,693.8" fill="#f4f4f4" stroke="#444" stroke-width="0.4"/>
<ellipse cx="591.0" cy="697.3" rx="1.7" ry="2.1" fill="#1a1a1a"/>
<circle cx="591.2" cy="697.3" r="0.7" fill="#bbb"/>
<ellipse cx="591.1" cy="704.3" rx="1.7" ry="2.1" fill="#1a1a1a"/>
<circle cx="591.3" cy="704.3" r="0.7" fill="#bbb"/>
<ellipse cx="591.3" cy="711.2" rx="1.7" ry="2.1" fill="#1a1a1a"/>
<circle cx="591.5" cy="711.2" r="0.7" fill="#bbb"/>
<ellipse cx="591.4" cy="718.2" rx="1.7" ry="2.1" fill="#1a1a1a"/>
<circle cx="591.6" cy="718.2" r="0.7" fill="#bbb"/>
<ellipse cx="596.3" cy="700.2" rx="1.3" ry="2.1" fill="#1a1a1a"/>
<circle cx="596.5" cy="700.2" r="0.7" fill="#bbb"/>
<ellipse cx="596.4" cy="707.1" rx="1.3" ry="2.1" fill="#1a1a1a"/>
<circle cx="596.6" cy="707.1" r="0.7" fill="#bbb"/>
<ellipse cx="596.6" cy="714.1" rx="1.3" ry="2.1" fill="#1a1a1a"/>
<circle cx="596.8" cy="714.1" r="0.7" fill="#bbb"/>
<ellipse cx="596.7" cy="721.0" rx="1.3" ry="2.1" fill="#1a1a1a"/>
<circle cx="596.9" cy="721.0" r="0.7" fill="#bbb"/>
<rect x="593.9" y="698.9" width="1.6" height="0.9" fill="#d33"/>
<rect x="594.1" y="706.8" width="1.4" height="0.8" fill="#d33" opacity="0.8"/>
<polygon points="602.4,688.5 619.4,671.0 621.0,696.5 603.2,719.5" fill="#fff" stroke="#555" stroke-width="0.6" stroke-linejoin="round"/>
<path d="M600.8,688.0 V724.0 M620.7,668.5 V698.0" stroke="#777" stroke-width="0.6" stroke-dasharray="1.2,1.6"/>
<path d="M624.5,671.0 L690.0,688.4" stroke="#555" stroke-width="1.9" fill="none"/>
<path d="M624.5,671.0 L690.0,688.4" stroke="#e4e4e4" stroke-width="0.8" fill="none"/>
<circle cx="690.0" cy="688.4" r="1.7" fill="#2a2a2a"/>
<path d="M601.0,693.8 L690.0,716.2" stroke="#555" stroke-width="1.9" fill="none"/>
<path d="M601.0,693.8 L690.0,716.2" stroke="#e4e4e4" stroke-width="0.8" fill="none"/>
<circle cx="690.0" cy="716.2" r="1.7" fill="#2a2a2a"/>
<path d="M601.0,727.6 L664.0,744.2" stroke="#555" stroke-width="1.9" fill="none"/>
<path d="M601.0,727.6 L664.0,744.2" stroke="#e4e4e4" stroke-width="0.8" fill="none"/>
<circle cx="664.0" cy="744.2" r="1.7" fill="#2a2a2a"/>
<circle cx="664.2" cy="711.2" r="1.6" fill="#2a2a2a"/>
<polygon points="627.0,699.5 631.0,697.5 655.0,675.5 657.5,674.2 659.2,675.8 659.8,692.5 658.2,693.5 659.8,695.0 660.0,709.5 632.0,735.8 630.5,738.2 627.6,737.6 626.6,728.0 628.8,722.5 627.0,718.0" fill="#fff" stroke="#333" stroke-width="0.85" stroke-linejoin="round"/>
<polygon points="632.0,701.5 654.6,680.6 655.6,707.6 633.2,730.0" fill="#fff" stroke="#444" stroke-width="0.7" stroke-linejoin="round"/>
<path d="M636.5,698.0 L637.5,726.0" stroke="#555" stroke-width="0.7"/>
<path d="M639.0,695.6 L640.0,723.5" stroke="#555" stroke-width="0.7"/>
<path d="M645.0,690.0 L646.0,717.5" stroke="#555" stroke-width="0.7"/>
<path d="M648.0,687.2 L649.0,714.6" stroke="#555" stroke-width="0.7"/>
<path d="M633,730.5 L656,708.2 L660,709.5 M632.5,733 L640,735.5 L661.5,713.5 L660,709.5" stroke="#444" stroke-width="0.7" fill="#fff" stroke-linejoin="round"/>
<path d="M629.2,702 V735" stroke="#777" stroke-width="0.6" stroke-dasharray="1.4,1.6"/>
<path d="M641.2,696 V722 M651,686 V712" stroke="#888" stroke-width="0.6" stroke-dasharray="1.4,1.8"/>
<ellipse cx="645.5" cy="728" rx="1.1" ry="0.8" fill="#fff" stroke="#444" stroke-width="0.5"/>
<ellipse cx="652" cy="721.5" rx="1.1" ry="0.8" fill="#fff" stroke="#444" stroke-width="0.5"/>
<ellipse cx="657.6" cy="715.2" rx="1.1" ry="0.8" fill="#fff" stroke="#444" stroke-width="0.5"/>
<ellipse cx="636.5" cy="733.4" rx="1.1" ry="0.8" fill="#fff" stroke="#444" stroke-width="0.5"/>
<path d="M637,658 L627.5,675.5" stroke="#d4474b" stroke-width="0.7" stroke-dasharray="2.4,1.8" fill="none"/>
<path d="M627.2,672 L627.3,676 L630.6,675" stroke="#d4474b" stroke-width="0.7" fill="none"/>
<path d="M432.8,733.2 l31.7,-30.4" stroke="#3c3c3c" stroke-width="0.62" stroke-dasharray="2.8,1.9" fill="none"/>
<path d="M432.8,759.2 l59.0,-56.6" stroke="#3c3c3c" stroke-width="0.62" stroke-dasharray="2.8,1.9" fill="none"/>
<path d="M438.9,750.9 l44.6,-42.8" stroke="#d4474b" stroke-width="0.5" stroke-dasharray="2.2,2.2" fill="none" opacity="0.7"/>
<path d="M445.0,736.5 l31.7,-30.4" stroke="#3c3c3c" stroke-width="0.62" stroke-dasharray="2.8,1.9" fill="none"/>
<path d="M445.0,762.5 l59.0,-56.6" stroke="#3c3c3c" stroke-width="0.62" stroke-dasharray="2.8,1.9" fill="none"/>
<path d="M451.1,754.2 l44.6,-42.8" stroke="#d4474b" stroke-width="0.5" stroke-dasharray="2.2,2.2" fill="none" opacity="0.7"/>
<path d="M457.1,739.8 l31.7,-30.4" stroke="#3c3c3c" stroke-width="0.62" stroke-dasharray="2.8,1.9" fill="none"/>
<path d="M457.1,765.8 l59.0,-56.6" stroke="#3c3c3c" stroke-width="0.62" stroke-dasharray="2.8,1.9" fill="none"/>
<path d="M463.2,757.5 l44.6,-42.8" stroke="#d4474b" stroke-width="0.5" stroke-dasharray="2.2,2.2" fill="none" opacity="0.7"/>
<path d="M469.3,743.2 l31.7,-30.4" stroke="#3c3c3c" stroke-width="0.62" stroke-dasharray="2.8,1.9" fill="none"/>
<path d="M469.3,769.2 l59.0,-56.6" stroke="#3c3c3c" stroke-width="0.62" stroke-dasharray="2.8,1.9" fill="none"/>
<path d="M475.4,760.8 l44.6,-42.8" stroke="#d4474b" stroke-width="0.5" stroke-dasharray="2.2,2.2" fill="none" opacity="0.7"/>
<path d="M481.5,746.5 l31.7,-30.4" stroke="#3c3c3c" stroke-width="0.62" stroke-dasharray="2.8,1.9" fill="none"/>
<path d="M481.5,772.5 l59.0,-56.6" stroke="#3c3c3c" stroke-width="0.62" stroke-dasharray="2.8,1.9" fill="none"/>
<path d="M487.6,764.1 l44.6,-42.8" stroke="#d4474b" stroke-width="0.5" stroke-dasharray="2.2,2.2" fill="none" opacity="0.7"/>
<path d="M493.7,749.8 l31.7,-30.4" stroke="#3c3c3c" stroke-width="0.62" stroke-dasharray="2.8,1.9" fill="none"/>
<path d="M493.7,775.8 l59.0,-56.6" stroke="#3c3c3c" stroke-width="0.62" stroke-dasharray="2.8,1.9" fill="none"/>
<path d="M499.7,767.5 l44.6,-42.8" stroke="#d4474b" stroke-width="0.5" stroke-dasharray="2.2,2.2" fill="none" opacity="0.7"/>
<path d="M505.8,753.1 l31.7,-30.4" stroke="#3c3c3c" stroke-width="0.62" stroke-dasharray="2.8,1.9" fill="none"/>
<path d="M505.8,779.1 l59.0,-56.6" stroke="#3c3c3c" stroke-width="0.62" stroke-dasharray="2.8,1.9" fill="none"/>
<path d="M511.9,770.8 l44.6,-42.8" stroke="#d4474b" stroke-width="0.5" stroke-dasharray="2.2,2.2" fill="none" opacity="0.7"/>
<path d="M518.0,756.4 l31.7,-30.4" stroke="#3c3c3c" stroke-width="0.62" stroke-dasharray="2.8,1.9" fill="none"/>
<path d="M518.0,782.4 l59.0,-56.6" stroke="#3c3c3c" stroke-width="0.62" stroke-dasharray="2.8,1.9" fill="none"/>
<path d="M524.1,774.1 l44.6,-42.8" stroke="#d4474b" stroke-width="0.5" stroke-dasharray="2.2,2.2" fill="none" opacity="0.7"/>
<path d="M530.2,759.8 l31.7,-30.4" stroke="#3c3c3c" stroke-width="0.62" stroke-dasharray="2.8,1.9" fill="none"/>
<path d="M530.2,785.8 l59.0,-56.6" stroke="#3c3c3c" stroke-width="0.62" stroke-dasharray="2.8,1.9" fill="none"/>
<path d="M536.2,777.4 l44.6,-42.8" stroke="#d4474b" stroke-width="0.5" stroke-dasharray="2.2,2.2" fill="none" opacity="0.7"/>
<path d="M536.2,761.2 l28.8,-27.6" stroke="#3c3c3c" stroke-width="0.62" stroke-dasharray="2.8,1.9" fill="none"/>
<path d="M536.6,787.2 l47.5,-45.5" stroke="#3c3c3c" stroke-width="0.62" stroke-dasharray="2.8,1.9" fill="none"/>
<path d="M548.0,782.0 l37.4,-35.9" stroke="#3c3c3c" stroke-width="0.62" stroke-dasharray="2.8,1.9" fill="none"/>
<path d="M560.0,773.0 l25.9,-24.8" stroke="#3c3c3c" stroke-width="0.62" stroke-dasharray="2.8,1.9" fill="none"/>
<path d="M430.5,700 l14,-13.4" stroke="#3c3c3c" stroke-width="0.62" stroke-dasharray="2.8,1.9" fill="none"/>
<path d="M430.5,712 l14,-13.4" stroke="#3c3c3c" stroke-width="0.62" stroke-dasharray="2.8,1.9" fill="none"/>
<path d="M430.5,724 l14,-13.4" stroke="#3c3c3c" stroke-width="0.62" stroke-dasharray="2.8,1.9" fill="none"/>
<path d="M430.5,748 l14,-13.4" stroke="#3c3c3c" stroke-width="0.62" stroke-dasharray="2.8,1.9" fill="none"/>
<polygon points="430.5,691.4 568.5,728.2 570.0,729.7 569.5,733.6 566.5,734.2 430.5,696.8" fill="#fff" stroke="#333" stroke-width="0.7" stroke-linejoin="round"/>
<path d="M430.5,693.7 L567.5,730.5" stroke="#666" stroke-width="0.5"/>
<ellipse cx="433.5" cy="696.1" rx="0.9" ry="0.7" fill="#fff" stroke="#444" stroke-width="0.45"/>
<ellipse cx="445.7" cy="699.3" rx="0.9" ry="0.7" fill="#fff" stroke="#444" stroke-width="0.45"/>
<ellipse cx="457.9" cy="702.6" rx="0.9" ry="0.7" fill="#fff" stroke="#444" stroke-width="0.45"/>
<ellipse cx="470.1" cy="705.8" rx="0.9" ry="0.7" fill="#fff" stroke="#444" stroke-width="0.45"/>
<ellipse cx="482.3" cy="709.1" rx="0.9" ry="0.7" fill="#fff" stroke="#444" stroke-width="0.45"/>
<ellipse cx="494.5" cy="712.4" rx="0.9" ry="0.7" fill="#fff" stroke="#444" stroke-width="0.45"/>
<ellipse cx="506.7" cy="715.6" rx="0.9" ry="0.7" fill="#fff" stroke="#444" stroke-width="0.45"/>
<ellipse cx="518.9" cy="718.9" rx="0.9" ry="0.7" fill="#fff" stroke="#444" stroke-width="0.45"/>
<ellipse cx="531.1" cy="722.1" rx="0.9" ry="0.7" fill="#fff" stroke="#444" stroke-width="0.45"/>
<ellipse cx="543.3" cy="725.4" rx="0.9" ry="0.7" fill="#fff" stroke="#444" stroke-width="0.45"/>
<ellipse cx="555.5" cy="728.6" rx="0.9" ry="0.7" fill="#fff" stroke="#444" stroke-width="0.45"/>
<ellipse cx="567.7" cy="731.9" rx="0.9" ry="0.7" fill="#fff" stroke="#444" stroke-width="0.45"/>
<path d="M432.4,697.2 v4.2 a2.6,2.6 0 0 0 5.2,0.8 v-3.6" fill="#fff" stroke="#333" stroke-width="0.7"/>
<ellipse cx="435.0" cy="700.8" rx="1.0" ry="1.2" fill="#ccc" stroke="#444" stroke-width="0.4"/>
<path d="M485.4,711.3 v4.2 a2.6,2.6 0 0 0 5.2,0.8 v-3.6" fill="#fff" stroke="#333" stroke-width="0.7"/>
<ellipse cx="488.0" cy="714.9" rx="1.0" ry="1.2" fill="#ccc" stroke="#444" stroke-width="0.4"/>
<path d="M502.4,715.9 v4.2 a2.6,2.6 0 0 0 5.2,0.8 v-3.6" fill="#fff" stroke="#333" stroke-width="0.7"/>
<ellipse cx="505.0" cy="719.5" rx="1.0" ry="1.2" fill="#ccc" stroke="#444" stroke-width="0.4"/>
<polygon points="430.5,717.6 568.5,754.8 570.0,756.3 569.5,760.0 566.5,760.6 430.5,722.8" fill="#fff" stroke="#333" stroke-width="0.7" stroke-linejoin="round"/>
<path d="M430.5,719.8 L567.5,757.0" stroke="#666" stroke-width="0.5"/>
<ellipse cx="433.5" cy="722.2" rx="0.9" ry="0.7" fill="#fff" stroke="#444" stroke-width="0.45"/>
<ellipse cx="445.7" cy="725.4" rx="0.9" ry="0.7" fill="#fff" stroke="#444" stroke-width="0.45"/>
<ellipse cx="457.9" cy="728.7" rx="0.9" ry="0.7" fill="#fff" stroke="#444" stroke-width="0.45"/>
<ellipse cx="470.1" cy="732.0" rx="0.9" ry="0.7" fill="#fff" stroke="#444" stroke-width="0.45"/>
<ellipse cx="482.3" cy="735.3" rx="0.9" ry="0.7" fill="#fff" stroke="#444" stroke-width="0.45"/>
<ellipse cx="494.5" cy="738.6" rx="0.9" ry="0.7" fill="#fff" stroke="#444" stroke-width="0.45"/>
<ellipse cx="506.7" cy="741.9" rx="0.9" ry="0.7" fill="#fff" stroke="#444" stroke-width="0.45"/>
<ellipse cx="518.9" cy="745.2" rx="0.9" ry="0.7" fill="#fff" stroke="#444" stroke-width="0.45"/>
<ellipse cx="531.1" cy="748.5" rx="0.9" ry="0.7" fill="#fff" stroke="#444" stroke-width="0.45"/>
<ellipse cx="543.3" cy="751.8" rx="0.9" ry="0.7" fill="#fff" stroke="#444" stroke-width="0.45"/>
<ellipse cx="555.5" cy="755.0" rx="0.9" ry="0.7" fill="#fff" stroke="#444" stroke-width="0.45"/>
<ellipse cx="567.7" cy="758.3" rx="0.9" ry="0.7" fill="#fff" stroke="#444" stroke-width="0.45"/>
<path d="M438.9,725.1 q1.6,2.6 3.2,0.9" fill="#fff" stroke="#333" stroke-width="0.6"/>
<path d="M455.9,729.7 q1.6,2.6 3.2,0.9" fill="#fff" stroke="#333" stroke-width="0.6"/>
<path d="M480.9,736.4 q1.6,2.6 3.2,0.9" fill="#fff" stroke="#333" stroke-width="0.6"/>
<path d="M500.9,741.8 q1.6,2.6 3.2,0.9" fill="#fff" stroke="#333" stroke-width="0.6"/>
<path d="M520.9,747.2 q1.6,2.6 3.2,0.9" fill="#fff" stroke="#333" stroke-width="0.6"/>
<path d="M546.9,754.2 q1.6,2.6 3.2,0.9" fill="#fff" stroke="#333" stroke-width="0.6"/>
<path d="M455.8,694.2 h2.4 M457.0,694.2 v2.6" stroke="#3b5a8a" stroke-width="0.7" fill="none"/>
<path d="M468.2,697.2 h2.4 M469.4,697.2 v2.6" stroke="#3b5a8a" stroke-width="0.7" fill="none"/>
<path d="M480.6,700.2 h2.4 M481.8,700.2 v2.6" stroke="#3b5a8a" stroke-width="0.7" fill="none"/>
<path d="M493.0,703.3 h2.4 M494.2,703.3 v2.6" stroke="#3b5a8a" stroke-width="0.7" fill="none"/>
<path d="M505.4,706.3 h2.4 M506.6,706.3 v2.6" stroke="#3b5a8a" stroke-width="0.7" fill="none"/>
<path d="M517.7,709.3 h2.4 M518.9,709.3 v2.6" stroke="#3b5a8a" stroke-width="0.7" fill="none"/>
<path d="M530.1,712.4 h2.4 M531.3,712.4 v2.6" stroke="#3b5a8a" stroke-width="0.7" fill="none"/>
<path d="M542.5,715.4 h2.4 M543.7,715.4 v2.6" stroke="#3b5a8a" stroke-width="0.7" fill="none"/>
<path d="M554.9,718.4 h2.4 M556.1,718.4 v2.6" stroke="#3b5a8a" stroke-width="0.7" fill="none"/>
<path d="M567.3,721.4 h2.4 M568.5,721.4 v2.6" stroke="#3b5a8a" stroke-width="0.7" fill="none"/>
<path d="M579.7,724.5 h2.4 M580.9,724.5 v2.6" stroke="#3b5a8a" stroke-width="0.7" fill="none"/>
<path d="M592.1,727.5 h2.4 M593.3,727.5 v2.6" stroke="#3b5a8a" stroke-width="0.7" fill="none"/>
<circle cx="432.8" cy="733.2" r="1.55" fill="#111"/>
<circle cx="432.8" cy="759.2" r="1.55" fill="#111"/>
<circle cx="445.0" cy="736.5" r="1.55" fill="#111"/>
<circle cx="445.0" cy="762.5" r="1.55" fill="#111"/>
<circle cx="457.1" cy="739.8" r="1.55" fill="#111"/>
<circle cx="457.1" cy="765.8" r="1.55" fill="#111"/>
<circle cx="469.3" cy="743.2" r="1.55" fill="#111"/>
<circle cx="469.3" cy="769.2" r="1.55" fill="#111"/>
<circle cx="481.5" cy="746.5" r="1.55" fill="#111"/>
<circle cx="481.5" cy="772.5" r="1.55" fill="#111"/>
<circle cx="493.7" cy="749.8" r="1.55" fill="#111"/>
<circle cx="493.7" cy="775.8" r="1.55" fill="#111"/>
<circle cx="505.8" cy="753.1" r="1.55" fill="#111"/>
<circle cx="505.8" cy="779.1" r="1.55" fill="#111"/>
<circle cx="518.0" cy="756.4" r="1.55" fill="#111"/>
<circle cx="518.0" cy="782.4" r="1.55" fill="#111"/>
<circle cx="530.2" cy="759.8" r="1.55" fill="#111"/>
<circle cx="530.2" cy="785.8" r="1.55" fill="#111"/>
<circle cx="536.2" cy="761.2" r="1.55" fill="#111"/>
<circle cx="536.6" cy="787.2" r="1.55" fill="#111"/>
</svg></body></html>
